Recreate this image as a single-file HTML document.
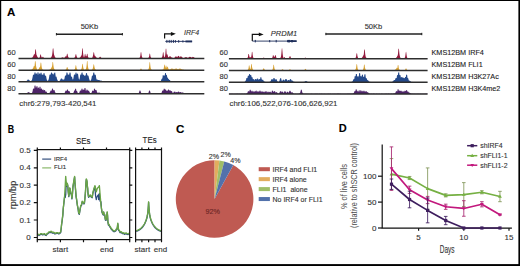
<!DOCTYPE html>
<html><head><meta charset="utf-8"><style>
html,body{margin:0;padding:0;background:#fff;width:520px;height:266px;overflow:hidden}
svg{display:block;font-family:"Liberation Sans",sans-serif}
text{stroke:#333;stroke-width:0.12px;paint-order:stroke}
</style></head><body>
<svg width="520" height="266" viewBox="0 0 520 266">
<rect x="0" y="0" width="520" height="266" fill="#fff"/>
<!-- border -->
<rect x="0" y="0" width="520" height="1" fill="#000"/>
<rect x="0" y="0" width="1.2" height="266" fill="#000"/>
<rect x="518.4" y="0" width="1.6" height="266" fill="#000"/>
<rect x="0" y="264.1" width="520" height="1.9" fill="#000"/>

<!-- ============ PANEL A ============ -->
<text x="7.0" y="16.1" font-size="11.5" font-weight="bold" fill="#000">A</text>

<!-- scale bars -->
<g stroke="#222" stroke-width="1.4">
<line x1="56.2" y1="34.2" x2="122.6" y2="34.2"/>
<line x1="56.4" y1="33" x2="56.4" y2="35.4" stroke-width="1"/>
<line x1="122.4" y1="33" x2="122.4" y2="35.4" stroke-width="1"/>
<line x1="325.7" y1="34" x2="422" y2="34"/>
<line x1="325.9" y1="32.8" x2="325.9" y2="35.2" stroke-width="1"/>
<line x1="421.8" y1="32.8" x2="421.8" y2="35.2" stroke-width="1"/>
</g>
<g font-size="7.5" fill="#333" text-anchor="middle">
<text x="89.4" y="29.2">50Kb</text>
<text x="373.4" y="28.8">50Kb</text>
</g>

<!-- IRF4 gene -->
<path d="M164.6,38.6 V33.8 H171.5" fill="none" stroke="#111" stroke-width="1.2"/>
<path d="M170.9,31.9 L175.8,33.8 L170.9,35.9 Z" fill="#111"/>
<text x="184.1" y="34.9" font-size="7" font-style="italic" fill="#333">IRF4</text>
<g stroke="#1f2f5c" fill="#1f2f5c">
<line x1="165.3" y1="41.4" x2="192.1" y2="41.4" stroke-width="0.9"/>
<rect x="185.5" y="40.5" width="6.6" height="1.9" stroke="none"/>
<g stroke="none"><rect x="166.4" y="39.9" width="1" height="3"/><rect x="168.7" y="39.9" width="1" height="3"/><rect x="170.7" y="39.9" width="1" height="3"/><rect x="172.9" y="39.9" width="1" height="3"/><rect x="174.9" y="40.1" width="1" height="2.6"/><rect x="178.2" y="40.1" width="1" height="2.6"/><rect x="182.4" y="40.3" width="1" height="2.2"/></g>
</g>

<!-- PRDM1 gene -->
<path d="M252.3,41.1 V34.4 H259.5" fill="none" stroke="#111" stroke-width="1.2"/>
<path d="M258.8,32.6 L263.6,34.4 L258.8,36.3 Z" fill="#111"/>
<text x="270.8" y="35.6" font-size="7.5" font-style="italic" fill="#333">PRDM1</text>
<g stroke="#1f2f5c" fill="#1f2f5c">
<line x1="252.3" y1="41.1" x2="296.6" y2="41.1" stroke-width="0.9"/>
<rect x="287" y="40.3" width="9.6" height="1.7" stroke="none"/>
<rect x="287.5" y="39.9" width="2.5" height="2.5" stroke="none"/>
<rect x="291" y="40" width="2" height="2.3" stroke="none"/>
<g stroke="none"><rect x="254.8" y="39.9" width="1" height="2.5"/><rect x="269.2" y="40" width="1" height="2.3"/><rect x="275.7" y="39.9" width="1" height="2.5"/></g>
</g>

<!-- track scale labels -->
<g font-size="7.5" fill="#333" text-anchor="end">
<text x="15.6" y="54.5">60</text>
<text x="15.6" y="66.7">60</text>
<text x="15.6" y="78.9">80</text>
<text x="15.6" y="91.1">80</text>
<text x="227.9" y="54.5">60</text>
<text x="227.9" y="66.7">60</text>
<text x="227.9" y="78.9">80</text>
<text x="227.9" y="91.1">80</text>
</g>
<g font-size="7.25" fill="#222">
<text x="431.5" y="54.6">KMS12BM IRF4</text>
<text x="431.5" y="66.8">KMS12BM FLI1</text>
<text x="431.5" y="79">KMS12BM H3K27Ac</text>
<text x="431.5" y="91.2">KMS12BM H3K4me2</text>
</g>
<g font-size="7.9" fill="#333">
<text x="19.3" y="105.7">chr6:279,793-420,541</text>
<text x="229.5" y="106">chr6:106,522,076-106,626,921</text>
</g>

<!-- TRACKS -->
<g id="tracks"><path d="M18.50,58.50 L18.50,58.39 L18.75,58.45 L19.00,58.27 L19.25,58.47 L19.50,58.31 L19.75,58.37 L20.00,58.48 L20.25,58.32 L20.50,58.49 L20.75,58.35 L21.00,58.48 L21.25,58.47 L21.50,58.35 L21.75,58.21 L22.00,58.46 L22.25,58.42 L22.50,58.28 L22.75,58.17 L23.00,58.30 L23.25,58.36 L23.50,58.16 L23.75,58.48 L24.00,58.20 L24.25,58.40 L24.50,58.45 L24.75,58.46 L25.00,58.39 L25.25,58.21 L25.50,58.44 L25.75,58.30 L26.00,58.28 L26.25,58.37 L26.50,58.31 L26.75,58.47 L27.00,58.48 L27.25,58.42 L27.50,58.26 L27.75,58.34 L28.00,58.38 L28.25,58.28 L28.50,58.32 L28.75,58.37 L29.00,58.19 L29.25,58.22 L29.50,58.36 L29.75,58.23 L30.00,58.23 L30.25,58.09 L30.50,58.11 L30.75,58.22 L31.00,57.93 L31.25,58.17 L31.50,57.98 L31.75,57.76 L32.00,57.84 L32.25,57.55 L32.50,57.48 L32.75,56.97 L33.00,56.57 L33.25,56.17 L33.50,55.46 L33.75,54.88 L34.00,54.26 L34.25,54.29 L34.50,54.30 L34.75,54.46 L35.00,52.69 L35.25,49.80 L35.50,49.23 L35.75,49.17 L36.00,50.78 L36.25,53.18 L36.50,54.93 L36.75,55.15 L37.00,55.69 L37.25,56.56 L37.50,57.02 L37.75,57.28 L38.00,57.77 L38.25,57.81 L38.50,58.05 L38.75,58.18 L39.00,58.20 L39.25,57.77 L39.50,57.69 L39.75,57.16 L40.00,56.30 L40.25,54.79 L40.50,54.47 L40.75,54.34 L41.00,55.22 L41.25,56.32 L41.50,57.08 L41.75,57.51 L42.00,57.85 L42.25,57.52 L42.50,57.10 L42.75,56.69 L43.00,56.66 L43.25,57.07 L43.50,57.53 L43.75,57.82 L44.00,58.02 L44.25,58.07 L44.50,58.12 L44.75,58.29 L45.00,58.42 L45.25,58.30 L45.50,58.34 L45.75,58.28 L46.00,58.15 L46.25,58.25 L46.50,58.31 L46.75,58.28 L47.00,58.26 L47.25,58.47 L47.50,58.17 L47.75,58.21 L48.00,58.17 L48.25,58.19 L48.50,58.32 L48.75,58.30 L49.00,58.39 L49.25,58.17 L49.50,58.34 L49.75,58.28 L50.00,58.16 L50.25,58.08 L50.50,57.89 L50.75,57.80 L51.00,57.57 L51.25,57.18 L51.50,56.73 L51.75,56.01 L52.00,55.49 L52.25,54.12 L52.50,52.10 L52.75,49.06 L53.00,48.21 L53.25,48.18 L53.50,49.74 L53.75,52.77 L54.00,54.45 L54.25,55.15 L54.50,55.82 L54.75,56.49 L55.00,57.12 L55.25,57.48 L55.50,57.66 L55.75,57.88 L56.00,57.82 L56.25,58.16 L56.50,58.29 L56.75,58.02 L57.00,58.20 L57.25,58.37 L57.50,58.25 L57.75,58.45 L58.00,58.28 L58.25,58.13 L58.50,58.18 L58.75,58.23 L59.00,58.37 L59.25,58.33 L59.50,58.39 L59.75,58.16 L60.00,58.22 L60.25,58.11 L60.50,58.23 L60.75,58.23 L61.00,57.96 L61.25,57.83 L61.50,57.79 L61.75,57.69 L62.00,57.53 L62.25,57.36 L62.50,57.42 L62.75,57.32 L63.00,57.38 L63.25,57.52 L63.50,57.73 L63.75,57.81 L64.00,57.95 L64.25,57.73 L64.50,57.49 L64.75,57.47 L65.00,57.05 L65.25,56.72 L65.50,56.32 L65.75,56.37 L66.00,56.42 L66.25,56.42 L66.50,56.12 L66.75,54.92 L67.00,53.78 L67.25,53.68 L67.50,53.71 L67.75,55.37 L68.00,56.32 L68.25,56.93 L68.50,57.62 L68.75,57.71 L69.00,57.81 L69.25,57.98 L69.50,58.08 L69.75,58.23 L70.00,58.37 L70.25,58.18 L70.50,58.35 L70.75,58.19 L71.00,58.14 L71.25,58.35 L71.50,58.35 L71.75,58.16 L72.00,58.24 L72.25,58.43 L72.50,58.43 L72.75,58.41 L73.00,58.13 L73.25,58.14 L73.50,58.33 L73.75,58.03 L74.00,57.88 L74.25,57.85 L74.50,57.74 L74.75,57.34 L75.00,56.98 L75.25,56.26 L75.50,54.77 L75.75,54.27 L76.00,54.32 L76.25,54.49 L76.50,55.92 L76.75,56.60 L77.00,57.16 L77.25,57.73 L77.50,57.95 L77.75,58.10 L78.00,58.22 L78.25,58.16 L78.50,58.24 L78.75,58.14 L79.00,58.18 L79.25,57.82 L79.50,57.92 L79.75,57.75 L80.00,57.54 L80.25,57.21 L80.50,57.11 L80.75,56.58 L81.00,56.27 L81.25,55.68 L81.50,55.32 L81.75,54.66 L82.00,52.03 L82.25,48.44 L82.50,48.50 L82.75,48.22 L83.00,52.13 L83.25,54.51 L83.50,55.92 L83.75,56.90 L84.00,57.53 L84.25,56.91 L84.50,55.98 L84.75,54.39 L85.00,53.96 L85.25,53.80 L85.50,54.94 L85.75,56.30 L86.00,56.23 L86.25,56.32 L86.50,56.30 L86.75,55.09 L87.00,53.68 L87.25,53.84 L87.50,54.05 L87.75,55.75 L88.00,56.76 L88.25,57.31 L88.50,57.77 L88.75,57.85 L89.00,57.94 L89.25,57.84 L89.50,57.97 L89.75,57.95 L90.00,57.97 L90.25,58.24 L90.50,58.16 L90.75,58.05 L91.00,58.10 L91.25,58.31 L91.50,58.24 L91.75,58.02 L92.00,57.98 L92.25,57.67 L92.50,57.34 L92.75,56.55 L93.00,55.62 L93.25,54.23 L93.50,52.45 L93.75,52.25 L94.00,52.27 L94.25,53.78 L94.50,55.11 L94.75,55.66 L95.00,55.92 L95.25,55.74 L95.50,56.47 L95.75,56.86 L96.00,57.01 L96.25,57.32 L96.50,57.75 L96.75,57.81 L97.00,57.90 L97.25,58.05 L97.50,58.18 L97.75,58.19 L98.00,58.08 L98.25,58.26 L98.50,57.99 L98.75,57.91 L99.00,57.90 L99.25,57.57 L99.50,57.17 L99.75,56.82 L100.00,56.98 L100.25,56.66 L100.50,56.80 L100.75,57.12 L101.00,57.70 L101.25,57.85 L101.50,58.08 L101.75,57.93 L102.00,58.19 L102.25,58.29 L102.50,58.24 L102.75,58.10 L103.00,58.15 L103.25,58.36 L103.50,58.41 L103.75,58.15 L104.00,58.28 L104.25,58.24 L104.50,58.46 L104.75,58.47 L105.00,58.25 L105.25,58.35 L105.50,58.47 L105.75,58.17 L106.00,58.28 L106.25,58.22 L106.50,58.47 L106.75,58.20 L107.00,58.48 L107.25,58.20 L107.50,58.34 L107.75,58.38 L108.00,58.31 L108.25,58.18 L108.50,58.41 L108.75,58.45 L109.00,58.32 L109.25,58.42 L109.50,58.46 L109.75,58.44 L110.00,58.48 L110.25,58.43 L110.50,58.39 L110.75,58.39 L111.00,58.23 L111.25,58.40 L111.50,58.32 L111.75,58.44 L112.00,58.38 L112.25,58.49 L112.50,58.41 L112.75,58.49 L113.00,58.24 L113.25,58.31 L113.50,58.43 L113.75,58.33 L114.00,58.17 L114.25,58.46 L114.50,58.21 L114.75,58.35 L115.00,58.33 L115.25,58.21 L115.50,58.36 L115.75,58.32 L116.00,58.26 L116.25,58.16 L116.50,58.38 L116.75,58.21 L117.00,58.25 L117.25,58.28 L117.50,58.36 L117.75,58.38 L118.00,58.48 L118.25,58.45 L118.50,58.48 L118.75,58.24 L119.00,58.41 L119.25,58.44 L119.50,58.47 L119.75,58.21 L120.00,58.20 L120.25,58.27 L120.50,58.40 L120.75,58.42 L121.00,58.40 L121.25,58.34 L121.50,58.44 L121.75,58.34 L122.00,58.41 L122.25,58.16 L122.50,58.16 L122.75,58.31 L123.00,58.41 L123.25,58.16 L123.50,58.39 L123.75,58.38 L124.00,58.50 L124.25,58.37 L124.50,58.33 L124.75,58.32 L125.00,58.43 L125.25,58.32 L125.50,58.50 L125.75,58.41 L126.00,58.47 L126.25,58.36 L126.50,58.49 L126.75,58.49 L127.00,58.39 L127.25,58.42 L127.50,58.30 L127.75,58.31 L128.00,58.24 L128.25,58.27 L128.50,58.25 L128.75,58.19 L129.00,58.36 L129.25,58.39 L129.50,58.16 L129.75,58.45 L130.00,58.25 L130.25,58.27 L130.50,58.48 L130.75,58.21 L131.00,58.19 L131.25,58.28 L131.50,58.24 L131.75,58.22 L132.00,58.45 L132.25,58.32 L132.50,58.32 L132.75,58.21 L133.00,58.22 L133.25,58.21 L133.50,58.30 L133.75,58.19 L134.00,58.26 L134.25,58.26 L134.50,58.42 L134.75,58.49 L135.00,58.45 L135.25,58.37 L135.50,58.46 L135.75,58.21 L136.00,58.30 L136.25,58.28 L136.50,58.28 L136.75,58.26 L137.00,58.33 L137.25,58.50 L137.50,58.22 L137.75,58.24 L138.00,58.32 L138.25,58.27 L138.50,58.20 L138.75,58.36 L139.00,58.05 L139.25,58.10 L139.50,57.96 L139.75,57.56 L140.00,56.85 L140.25,56.13 L140.50,54.45 L140.75,52.16 L141.00,52.33 L141.25,52.37 L141.50,54.54 L141.75,55.96 L142.00,56.84 L142.25,57.44 L142.50,57.76 L142.75,58.16 L143.00,58.26 L143.25,58.30 L143.50,58.17 L143.75,58.35 L144.00,58.30 L144.25,58.50 L144.50,58.48 L144.75,58.41 L145.00,58.26 L145.25,58.26 L145.50,58.26 L145.75,58.40 L146.00,58.32 L146.25,58.34 L146.50,58.34 L146.75,58.46 L147.00,58.19 L147.25,58.38 L147.50,58.08 L147.75,58.04 L148.00,58.28 L148.25,57.98 L148.50,57.63 L148.75,57.19 L149.00,56.75 L149.25,55.78 L149.50,54.09 L149.75,53.57 L150.00,53.83 L150.25,55.09 L150.50,56.50 L150.75,57.14 L151.00,57.45 L151.25,58.02 L151.50,57.95 L151.75,58.16 L152.00,58.09 L152.25,58.20 L152.50,58.38 L152.75,58.19 L153.00,58.33 L153.25,58.49 L153.50,58.50 L153.75,58.33 L154.00,58.34 L154.25,58.39 L154.50,58.45 L154.75,58.38 L155.00,58.39 L155.25,58.21 L155.50,58.50 L155.75,58.24 L156.00,58.21 L156.25,58.46 L156.50,58.18 L156.75,58.25 L157.00,58.18 L157.25,58.40 L157.50,58.37 L157.75,58.36 L158.00,58.15 L158.25,58.29 L158.50,58.37 L158.75,58.35 L159.00,58.40 L159.25,58.48 L159.50,58.46 L159.75,58.20 L160.00,58.38 L160.25,58.14 L160.50,58.37 L160.75,58.33 L161.00,58.19 L161.25,58.23 L161.50,58.03 L161.75,57.60 L162.00,57.26 L162.25,56.68 L162.50,55.74 L162.75,53.99 L163.00,52.17 L163.25,52.31 L163.50,52.60 L163.75,55.06 L164.00,56.16 L164.25,57.08 L164.50,57.41 L164.75,56.91 L165.00,56.15 L165.25,54.77 L165.50,52.05 L165.75,48.76 L166.00,48.63 L166.25,48.68 L166.50,52.27 L166.75,54.53 L167.00,54.39 L167.25,54.41 L167.50,54.27 L167.75,55.60 L168.00,56.61 L168.25,57.34 L168.50,57.37 L168.75,57.17 L169.00,56.93 L169.25,56.41 L169.50,56.33 L169.75,56.42 L170.00,56.18 L170.25,56.15 L170.50,56.34 L170.75,56.68 L171.00,56.93 L171.25,57.20 L171.50,57.30 L171.75,57.56 L172.00,57.65 L172.25,57.76 L172.50,57.75 L172.75,57.72 L173.00,57.84 L173.25,58.02 L173.50,58.07 L173.75,58.00 L174.00,57.96 L174.25,57.85 L174.50,57.80 L174.75,57.53 L175.00,57.04 L175.25,57.02 L175.50,56.48 L175.75,56.28 L176.00,56.20 L176.25,56.42 L176.50,56.56 L176.75,56.98 L177.00,57.24 L177.25,57.25 L177.50,56.77 L177.75,56.41 L178.00,55.89 L178.25,55.99 L178.50,55.99 L178.75,55.75 L179.00,55.88 L179.25,56.54 L179.50,56.89 L179.75,57.41 L180.00,57.24 L180.25,56.74 L180.50,56.36 L180.75,56.20 L181.00,56.16 L181.25,56.41 L181.50,56.62 L181.75,57.01 L182.00,57.20 L182.25,57.39 L182.50,57.49 L182.75,57.72 L183.00,57.86 L183.25,57.91 L183.50,58.01 L183.75,57.92 L184.00,58.02 L184.25,57.68 L184.50,57.77 L184.75,57.42 L185.00,57.37 L185.25,57.33 L185.50,57.26 L185.75,57.21 L186.00,57.08 L186.25,57.06 L186.50,57.26 L186.75,57.41 L187.00,57.42 L187.25,57.53 L187.50,57.72 L187.75,57.88 L188.00,57.71 L188.25,57.81 L188.50,57.59 L188.75,57.39 L189.00,57.04 L189.25,56.94 L189.50,56.69 L189.75,56.83 L190.00,56.92 L190.25,56.91 L190.50,56.66 L190.75,56.92 L191.00,57.27 L191.25,57.54 L191.50,57.52 L191.75,57.58 L192.00,57.51 L192.25,57.33 L192.50,56.88 L192.75,56.68 L193.00,56.92 L193.25,56.99 L193.50,57.00 L193.75,57.27 L194.00,57.42 L194.25,57.78 L194.50,57.71 L194.75,57.84 L195.00,58.01 L195.25,58.19 L195.50,57.97 L195.75,58.24 L196.00,58.10 L196.25,58.33 L196.50,58.35 L196.75,58.18 L197.00,58.35 L197.25,58.13 L197.50,58.30 L197.75,58.41 L198.00,58.41 L198.25,58.34 L198.50,58.26 L198.75,58.16 L199.00,58.44 L199.25,58.36 L199.50,58.42 L199.75,58.16 L200.00,58.45 L200.25,58.48 L200.50,58.48 L200.75,58.36 L201.00,58.18 L201.25,58.19 L201.50,58.24 L201.75,58.15 L202.00,58.17 L202.25,58.38 L202.50,58.44 L202.75,58.17 L203.00,58.24 L203.25,58.49 L203.50,58.27 L203.75,58.37 L204.00,58.37 L204.25,58.38 L204.30,58.50 Z" fill="#931a3d"/>
<path d="M18.50,70.30 L18.50,70.24 L18.75,70.30 L19.00,70.20 L19.25,70.18 L19.50,69.97 L19.75,70.26 L20.00,69.96 L20.25,70.23 L20.50,70.18 L20.75,70.01 L21.00,70.01 L21.25,70.15 L21.50,70.28 L21.75,70.13 L22.00,70.17 L22.25,69.98 L22.50,70.23 L22.75,70.17 L23.00,69.99 L23.25,70.29 L23.50,70.16 L23.75,70.02 L24.00,70.03 L24.25,70.29 L24.50,70.29 L24.75,70.28 L25.00,69.98 L25.25,70.21 L25.50,70.04 L25.75,69.99 L26.00,70.18 L26.25,70.20 L26.50,69.96 L26.75,70.08 L27.00,70.20 L27.25,70.04 L27.50,70.18 L27.75,70.19 L28.00,70.29 L28.25,70.02 L28.50,69.96 L28.75,70.05 L29.00,69.94 L29.25,70.25 L29.50,70.16 L29.75,70.06 L30.00,69.87 L30.25,69.85 L30.50,70.01 L30.75,70.02 L31.00,69.90 L31.25,69.81 L31.50,69.57 L31.75,69.71 L32.00,69.34 L32.25,69.18 L32.50,68.90 L32.75,68.60 L33.00,68.25 L33.25,67.83 L33.50,67.17 L33.75,66.29 L34.00,66.03 L34.25,66.27 L34.50,66.23 L34.75,64.04 L35.00,61.11 L35.25,61.18 L35.50,61.19 L35.75,63.02 L36.00,65.51 L36.25,66.88 L36.50,67.96 L36.75,68.62 L37.00,69.32 L37.25,69.69 L37.50,69.88 L37.75,69.64 L38.00,69.43 L38.25,69.35 L38.50,69.20 L38.75,68.85 L39.00,68.40 L39.25,67.91 L39.50,67.27 L39.75,67.00 L40.00,67.07 L40.25,66.02 L40.50,63.57 L40.75,62.60 L41.00,62.50 L41.25,63.18 L41.50,65.43 L41.75,67.19 L42.00,68.21 L42.25,68.89 L42.50,69.38 L42.75,69.42 L43.00,69.72 L43.25,69.94 L43.50,70.00 L43.75,69.84 L44.00,70.04 L44.25,70.15 L44.50,69.97 L44.75,70.03 L45.00,69.92 L45.25,70.24 L45.50,70.12 L45.75,70.00 L46.00,69.99 L46.25,69.97 L46.50,70.27 L46.75,70.17 L47.00,70.23 L47.25,70.19 L47.50,69.91 L47.75,70.03 L48.00,69.89 L48.25,70.06 L48.50,69.86 L48.75,69.97 L49.00,69.98 L49.25,69.74 L49.50,69.59 L49.75,69.78 L50.00,69.47 L50.25,69.29 L50.50,69.21 L50.75,68.86 L51.00,68.57 L51.25,68.07 L51.50,67.44 L51.75,67.09 L52.00,66.55 L52.25,64.89 L52.50,62.20 L52.75,62.09 L53.00,61.96 L53.25,63.93 L53.50,66.03 L53.75,67.49 L54.00,68.21 L54.25,68.92 L54.50,69.49 L54.75,69.75 L55.00,69.82 L55.25,69.88 L55.50,69.93 L55.75,70.16 L56.00,70.16 L56.25,69.99 L56.50,70.11 L56.75,70.16 L57.00,70.16 L57.25,69.94 L57.50,70.17 L57.75,70.09 L58.00,70.16 L58.25,70.15 L58.50,69.99 L58.75,69.95 L59.00,70.17 L59.25,70.23 L59.50,70.04 L59.75,70.23 L60.00,70.30 L60.25,69.98 L60.50,70.15 L60.75,70.01 L61.00,70.16 L61.25,69.99 L61.50,70.14 L61.75,70.24 L62.00,70.29 L62.25,70.11 L62.50,70.07 L62.75,69.98 L63.00,70.26 L63.25,70.08 L63.50,70.16 L63.75,70.11 L64.00,70.23 L64.25,70.16 L64.50,70.06 L64.75,69.89 L65.00,70.14 L65.25,69.94 L65.50,69.73 L65.75,69.52 L66.00,69.56 L66.25,69.24 L66.50,68.43 L66.75,67.62 L67.00,67.13 L67.25,67.28 L67.50,66.98 L67.75,68.19 L68.00,68.68 L68.25,69.22 L68.50,69.44 L68.75,69.87 L69.00,69.78 L69.25,70.06 L69.50,70.05 L69.75,69.93 L70.00,69.96 L70.25,70.21 L70.50,70.20 L70.75,70.15 L71.00,70.11 L71.25,70.16 L71.50,70.25 L71.75,70.21 L72.00,70.04 L72.25,69.98 L72.50,70.28 L72.75,70.09 L73.00,70.01 L73.25,70.24 L73.50,69.94 L73.75,70.14 L74.00,69.90 L74.25,69.79 L74.50,69.56 L74.75,69.33 L75.00,68.73 L75.25,67.76 L75.50,66.30 L75.75,65.07 L76.00,65.14 L76.25,65.89 L76.50,67.71 L76.75,68.52 L77.00,69.18 L77.25,69.64 L77.50,69.68 L77.75,69.81 L78.00,70.01 L78.25,70.16 L78.50,70.09 L78.75,70.23 L79.00,70.24 L79.25,70.13 L79.50,70.24 L79.75,70.10 L80.00,70.05 L80.25,70.17 L80.50,69.88 L80.75,69.95 L81.00,69.51 L81.25,69.15 L81.50,68.68 L81.75,67.91 L82.00,66.21 L82.25,63.97 L82.50,63.77 L82.75,64.05 L83.00,66.09 L83.25,67.58 L83.50,68.60 L83.75,69.14 L84.00,69.70 L84.25,69.64 L84.50,69.93 L84.75,69.85 L85.00,69.79 L85.25,69.93 L85.50,69.50 L85.75,69.12 L86.00,68.86 L86.25,67.84 L86.50,66.18 L86.75,63.90 L87.00,60.89 L87.25,61.10 L87.50,61.44 L87.75,65.05 L88.00,66.97 L88.25,68.07 L88.50,69.07 L88.75,69.50 L89.00,69.70 L89.25,69.93 L89.50,70.13 L89.75,70.14 L90.00,70.19 L90.25,69.94 L90.50,70.02 L90.75,69.93 L91.00,70.15 L91.25,69.89 L91.50,70.06 L91.75,69.81 L92.00,69.61 L92.25,69.46 L92.50,68.92 L92.75,68.47 L93.00,67.62 L93.25,66.23 L93.50,64.56 L93.75,64.25 L94.00,64.38 L94.25,65.72 L94.50,67.09 L94.75,68.28 L95.00,68.68 L95.25,69.26 L95.50,69.62 L95.75,69.67 L96.00,69.90 L96.25,70.08 L96.50,69.94 L96.75,70.21 L97.00,69.97 L97.25,70.18 L97.50,70.06 L97.75,69.94 L98.00,70.09 L98.25,70.06 L98.50,70.19 L98.75,70.30 L99.00,70.29 L99.25,70.25 L99.50,70.08 L99.75,70.15 L100.00,70.12 L100.25,69.99 L100.50,70.25 L100.75,70.22 L101.00,70.07 L101.25,70.29 L101.50,70.30 L101.75,70.18 L102.00,70.26 L102.25,70.17 L102.50,70.22 L102.75,70.10 L103.00,70.09 L103.25,70.23 L103.50,70.08 L103.75,70.13 L104.00,70.25 L104.25,69.97 L104.50,70.21 L104.75,70.25 L105.00,70.27 L105.25,70.08 L105.50,70.00 L105.75,70.03 L106.00,70.16 L106.25,70.21 L106.50,70.30 L106.75,70.07 L107.00,70.10 L107.25,70.18 L107.50,70.07 L107.75,70.14 L108.00,69.97 L108.25,70.04 L108.50,70.21 L108.75,69.98 L109.00,70.28 L109.25,70.11 L109.50,70.16 L109.75,70.22 L110.00,70.28 L110.25,70.03 L110.50,70.30 L110.75,70.11 L111.00,69.97 L111.25,70.25 L111.50,70.23 L111.75,70.09 L112.00,70.12 L112.25,70.08 L112.50,70.02 L112.75,70.24 L113.00,70.19 L113.25,70.19 L113.50,70.28 L113.75,69.99 L114.00,70.03 L114.25,70.05 L114.50,70.30 L114.75,70.00 L115.00,70.04 L115.25,70.14 L115.50,70.04 L115.75,70.14 L116.00,70.22 L116.25,70.26 L116.50,70.22 L116.75,70.29 L117.00,70.18 L117.25,70.04 L117.50,70.06 L117.75,70.00 L118.00,70.05 L118.25,70.21 L118.50,70.11 L118.75,70.15 L119.00,70.02 L119.25,70.12 L119.50,70.21 L119.75,70.08 L120.00,69.96 L120.25,70.22 L120.50,69.99 L120.75,70.29 L121.00,70.21 L121.25,70.22 L121.50,70.04 L121.75,69.97 L122.00,70.04 L122.25,70.19 L122.50,69.99 L122.75,70.19 L123.00,70.22 L123.25,69.98 L123.50,70.08 L123.75,70.06 L124.00,70.07 L124.25,69.96 L124.50,70.14 L124.75,70.01 L125.00,70.06 L125.25,70.00 L125.50,70.15 L125.75,70.05 L126.00,70.10 L126.25,70.19 L126.50,70.23 L126.75,70.08 L127.00,70.27 L127.25,69.98 L127.50,70.25 L127.75,70.29 L128.00,70.26 L128.25,69.97 L128.50,70.18 L128.75,70.25 L129.00,70.29 L129.25,70.29 L129.50,70.06 L129.75,70.08 L130.00,70.06 L130.25,70.04 L130.50,70.28 L130.75,70.09 L131.00,70.17 L131.25,70.01 L131.50,70.01 L131.75,69.99 L132.00,70.28 L132.25,70.00 L132.50,69.98 L132.75,69.97 L133.00,70.26 L133.25,70.23 L133.50,70.26 L133.75,70.29 L134.00,70.00 L134.25,70.02 L134.50,70.08 L134.75,70.01 L135.00,70.08 L135.25,70.20 L135.50,70.27 L135.75,70.27 L136.00,70.03 L136.25,70.23 L136.50,70.19 L136.75,70.15 L137.00,70.29 L137.25,70.21 L137.50,70.20 L137.75,70.05 L138.00,70.17 L138.25,70.18 L138.50,69.95 L138.75,70.10 L139.00,69.95 L139.25,70.01 L139.50,70.16 L139.75,69.94 L140.00,69.80 L140.25,69.46 L140.50,69.23 L140.75,68.55 L141.00,68.61 L141.25,68.72 L141.50,69.05 L141.75,69.69 L142.00,69.66 L142.25,70.03 L142.50,70.17 L142.75,70.15 L143.00,69.99 L143.25,69.93 L143.50,70.28 L143.75,70.12 L144.00,70.13 L144.25,70.02 L144.50,70.24 L144.75,70.13 L145.00,70.18 L145.25,70.01 L145.50,70.21 L145.75,69.97 L146.00,70.20 L146.25,70.22 L146.50,70.06 L146.75,70.13 L147.00,70.26 L147.25,69.99 L147.50,70.13 L147.75,69.80 L148.00,69.68 L148.25,69.41 L148.50,69.06 L148.75,68.49 L149.00,67.39 L149.25,65.59 L149.50,62.45 L149.75,62.27 L150.00,61.99 L150.25,64.71 L150.50,66.84 L150.75,68.15 L151.00,68.74 L151.25,69.37 L151.50,69.71 L151.75,69.71 L152.00,70.05 L152.25,70.04 L152.50,70.05 L152.75,70.03 L153.00,70.03 L153.25,70.07 L153.50,70.17 L153.75,70.18 L154.00,70.24 L154.25,70.00 L154.50,70.06 L154.75,70.03 L155.00,70.23 L155.25,70.13 L155.50,70.01 L155.75,70.08 L156.00,70.24 L156.25,70.12 L156.50,69.97 L156.75,70.19 L157.00,70.20 L157.25,70.16 L157.50,70.01 L157.75,69.96 L158.00,70.19 L158.25,70.19 L158.50,70.15 L158.75,70.11 L159.00,70.03 L159.25,70.15 L159.50,70.07 L159.75,70.11 L160.00,69.82 L160.25,69.88 L160.50,70.08 L160.75,69.76 L161.00,70.03 L161.25,69.90 L161.50,69.65 L161.75,69.68 L162.00,69.66 L162.25,69.71 L162.50,69.73 L162.75,69.51 L163.00,69.62 L163.25,69.47 L163.50,68.91 L163.75,68.22 L164.00,66.75 L164.25,64.62 L164.50,64.66 L164.75,64.72 L165.00,66.67 L165.25,68.01 L165.50,67.03 L165.75,65.59 L166.00,65.66 L166.25,65.54 L166.50,66.76 L166.75,68.02 L167.00,67.59 L167.25,66.54 L167.50,66.65 L167.75,66.72 L168.00,67.54 L168.25,68.34 L168.50,68.94 L168.75,69.33 L169.00,69.36 L169.25,69.50 L169.50,69.46 L169.75,69.44 L170.00,69.40 L170.25,69.18 L170.50,69.25 L170.75,69.00 L171.00,68.72 L171.25,68.57 L171.50,68.58 L171.75,68.71 L172.00,68.65 L172.25,68.64 L172.50,68.58 L172.75,68.68 L173.00,68.76 L173.25,68.82 L173.50,69.22 L173.75,69.17 L174.00,69.24 L174.25,69.27 L174.50,69.11 L174.75,68.81 L175.00,68.98 L175.25,68.63 L175.50,68.74 L175.75,68.53 L176.00,68.47 L176.25,68.62 L176.50,68.76 L176.75,68.62 L177.00,68.81 L177.25,68.90 L177.50,69.11 L177.75,69.18 L178.00,69.22 L178.25,69.22 L178.50,69.14 L178.75,68.82 L179.00,68.92 L179.25,68.58 L179.50,68.66 L179.75,68.53 L180.00,68.76 L180.25,68.46 L180.50,68.68 L180.75,68.80 L181.00,68.90 L181.25,69.01 L181.50,69.28 L181.75,69.26 L182.00,69.36 L182.25,69.36 L182.50,69.56 L182.75,69.66 L183.00,69.74 L183.25,69.62 L183.50,69.60 L183.75,69.79 L184.00,69.93 L184.25,69.76 L184.50,69.94 L184.75,70.03 L185.00,70.08 L185.25,69.87 L185.50,69.88 L185.75,69.96 L186.00,70.03 L186.25,70.01 L186.50,70.14 L186.75,69.89 L187.00,70.11 L187.25,70.02 L187.50,69.96 L187.75,69.97 L188.00,70.10 L188.25,70.16 L188.50,70.08 L188.75,70.23 L189.00,69.98 L189.25,70.15 L189.50,69.98 L189.75,70.19 L190.00,70.15 L190.25,70.20 L190.50,70.14 L190.75,70.22 L191.00,70.29 L191.25,70.04 L191.50,70.19 L191.75,70.21 L192.00,70.19 L192.25,70.13 L192.50,70.15 L192.75,70.07 L193.00,70.07 L193.25,70.17 L193.50,69.97 L193.75,70.00 L194.00,70.28 L194.25,70.01 L194.50,69.98 L194.75,70.02 L195.00,70.25 L195.25,70.01 L195.50,70.08 L195.75,70.29 L196.00,70.30 L196.25,69.97 L196.50,70.07 L196.75,70.21 L197.00,70.26 L197.25,70.25 L197.50,70.22 L197.75,70.03 L198.00,70.18 L198.25,70.25 L198.50,69.98 L198.75,70.02 L199.00,70.24 L199.25,69.99 L199.50,70.09 L199.75,70.03 L200.00,70.07 L200.25,69.99 L200.50,70.02 L200.75,70.01 L201.00,70.23 L201.25,70.06 L201.50,70.11 L201.75,70.04 L202.00,70.15 L202.25,69.99 L202.50,70.11 L202.75,70.21 L203.00,70.22 L203.25,70.25 L203.50,70.13 L203.75,70.28 L204.00,70.14 L204.25,70.25 L204.30,70.30 Z" fill="#d8a233"/>
<path d="M18.50,81.80 L18.50,81.63 L18.75,81.63 L19.00,81.61 L19.25,81.50 L19.50,81.80 L19.75,81.51 L20.00,81.64 L20.25,81.60 L20.50,81.57 L20.75,81.50 L21.00,81.67 L21.25,81.65 L21.50,81.46 L21.75,81.77 L22.00,81.57 L22.25,81.57 L22.50,81.78 L22.75,81.57 L23.00,81.54 L23.25,81.45 L23.50,81.66 L23.75,81.42 L24.00,81.58 L24.25,81.57 L24.50,81.41 L24.75,81.69 L25.00,81.42 L25.25,81.41 L25.50,81.46 L25.75,81.21 L26.00,81.30 L26.25,81.15 L26.50,80.99 L26.75,80.72 L27.00,80.68 L27.25,80.28 L27.50,79.88 L27.75,79.61 L28.00,79.51 L28.25,79.70 L28.50,79.51 L28.75,79.66 L29.00,79.66 L29.25,80.19 L29.50,80.46 L29.75,80.56 L30.00,80.88 L30.25,80.99 L30.50,81.27 L30.75,81.35 L31.00,81.21 L31.25,80.91 L31.50,80.61 L31.75,80.16 L32.00,79.85 L32.25,78.81 L32.50,77.62 L32.75,76.13 L33.00,74.78 L33.25,74.69 L33.50,74.80 L33.75,74.73 L34.00,74.48 L34.25,74.54 L34.50,72.57 L34.75,72.52 L35.00,72.48 L35.25,72.59 L35.50,72.58 L35.75,74.53 L36.00,73.56 L36.25,73.59 L36.50,73.56 L36.75,73.73 L37.00,73.57 L37.25,75.30 L37.50,72.23 L37.75,72.46 L38.00,72.44 L38.25,72.49 L38.50,72.23 L38.75,75.14 L39.00,73.57 L39.25,73.67 L39.50,73.51 L39.75,73.52 L40.00,73.60 L40.25,74.66 L40.50,72.69 L40.75,72.65 L41.00,72.69 L41.25,72.65 L41.50,72.58 L41.75,74.42 L42.00,74.78 L42.25,74.60 L42.50,74.79 L42.75,74.76 L43.00,74.52 L43.25,74.94 L43.50,72.98 L43.75,73.14 L44.00,73.30 L44.25,73.16 L44.50,73.09 L44.75,74.82 L45.00,75.46 L45.25,75.63 L45.50,75.66 L45.75,75.76 L46.00,75.57 L46.25,77.03 L46.50,78.43 L46.75,79.45 L47.00,80.14 L47.25,80.39 L47.50,80.93 L47.75,80.78 L48.00,80.80 L48.25,80.13 L48.50,79.82 L48.75,79.06 L49.00,77.67 L49.25,76.23 L49.50,74.54 L49.75,74.73 L50.00,74.78 L50.25,74.53 L50.50,74.55 L50.75,74.45 L51.00,72.54 L51.25,72.77 L51.50,72.58 L51.75,72.55 L52.00,72.64 L52.25,74.43 L52.50,73.71 L52.75,73.46 L53.00,73.55 L53.25,73.80 L53.50,73.79 L53.75,75.31 L54.00,73.96 L54.25,72.77 L54.50,72.69 L54.75,72.54 L55.00,72.74 L55.25,72.50 L55.50,75.05 L55.75,76.78 L56.00,76.67 L56.25,76.60 L56.50,76.65 L56.75,77.65 L57.00,78.98 L57.25,79.57 L57.50,80.29 L57.75,80.60 L58.00,80.89 L58.25,81.17 L58.50,81.32 L58.75,81.18 L59.00,81.02 L59.25,80.94 L59.50,80.84 L59.75,80.71 L60.00,80.50 L60.25,79.80 L60.50,79.40 L60.75,78.72 L61.00,78.68 L61.25,78.59 L61.50,78.46 L61.75,78.51 L62.00,78.59 L62.25,78.90 L62.50,79.50 L62.75,79.49 L63.00,79.67 L63.25,79.56 L63.50,79.59 L63.75,79.62 L64.00,79.86 L64.25,79.35 L64.50,78.48 L64.75,77.01 L65.00,75.65 L65.25,75.59 L65.50,75.51 L65.75,75.49 L66.00,75.79 L66.25,74.46 L66.50,72.52 L66.75,72.50 L67.00,72.60 L67.25,72.70 L67.50,72.50 L67.75,74.47 L68.00,74.56 L68.25,74.48 L68.50,74.68 L68.75,74.77 L69.00,74.61 L69.25,74.47 L69.50,72.73 L69.75,72.54 L70.00,72.47 L70.25,72.72 L70.50,72.59 L70.75,74.51 L71.00,76.64 L71.25,76.73 L71.50,76.71 L71.75,76.54 L72.00,76.52 L72.25,77.72 L72.50,79.00 L72.75,79.56 L73.00,79.60 L73.25,78.98 L73.50,77.72 L73.75,76.00 L74.00,74.49 L74.25,74.62 L74.50,74.63 L74.75,74.59 L75.00,74.73 L75.25,74.68 L75.50,72.74 L75.75,72.55 L76.00,72.67 L76.25,72.60 L76.50,72.66 L76.75,74.57 L77.00,73.75 L77.25,73.78 L77.50,73.45 L77.75,73.67 L78.00,73.76 L78.25,75.31 L78.50,77.10 L78.75,78.62 L79.00,79.38 L79.25,79.87 L79.50,79.06 L79.75,78.18 L80.00,76.67 L80.25,74.45 L80.50,74.50 L80.75,74.63 L81.00,74.60 L81.25,74.66 L81.50,72.53 L81.75,72.65 L82.00,72.47 L82.25,72.53 L82.50,72.51 L82.75,74.41 L83.00,74.71 L83.25,74.79 L83.50,74.73 L83.75,74.74 L84.00,74.77 L84.25,76.30 L84.50,75.60 L84.75,75.50 L85.00,75.64 L85.25,75.47 L85.50,75.48 L85.75,75.12 L86.00,73.09 L86.25,73.16 L86.50,73.26 L86.75,72.96 L87.00,73.21 L87.25,74.95 L87.50,75.58 L87.75,75.47 L88.00,75.57 L88.25,75.66 L88.50,75.64 L88.75,77.05 L89.00,78.14 L89.25,79.11 L89.50,80.06 L89.75,80.61 L90.00,80.88 L90.25,81.09 L90.50,80.66 L90.75,80.31 L91.00,79.85 L91.25,79.44 L91.50,78.20 L91.75,76.85 L92.00,75.57 L92.25,75.46 L92.50,75.78 L92.75,75.75 L93.00,74.96 L93.25,72.47 L93.50,72.56 L93.75,72.70 L94.00,72.59 L94.25,72.53 L94.50,74.21 L94.75,74.69 L95.00,74.71 L95.25,74.76 L95.50,74.63 L95.75,74.74 L96.00,76.60 L96.25,78.14 L96.50,79.01 L96.75,79.80 L97.00,79.55 L97.25,79.73 L97.50,79.79 L97.75,79.48 L98.00,80.04 L98.25,79.97 L98.50,80.00 L98.75,79.99 L99.00,80.25 L99.25,80.14 L99.50,80.27 L99.75,79.97 L100.00,80.25 L100.25,80.56 L100.50,80.64 L100.75,80.68 L101.00,80.51 L101.25,80.63 L101.50,80.58 L101.75,80.75 L102.00,80.88 L102.25,81.10 L102.50,81.00 L102.75,81.16 L103.00,81.38 L103.25,81.20 L103.50,81.47 L103.75,81.46 L104.00,81.59 L104.25,81.58 L104.50,81.40 L104.75,81.60 L105.00,81.67 L105.25,81.57 L105.50,81.64 L105.75,81.45 L106.00,81.73 L106.25,81.43 L106.50,81.76 L106.75,81.47 L107.00,81.55 L107.25,81.72 L107.50,81.62 L107.75,81.69 L108.00,81.70 L108.25,81.72 L108.50,81.67 L108.75,81.45 L109.00,81.45 L109.25,81.47 L109.50,81.76 L109.75,81.70 L110.00,81.49 L110.25,81.78 L110.50,81.55 L110.75,81.70 L111.00,81.46 L111.25,81.79 L111.50,81.52 L111.75,81.68 L112.00,81.75 L112.25,81.80 L112.50,81.51 L112.75,81.62 L113.00,81.73 L113.25,81.65 L113.50,81.48 L113.75,81.72 L114.00,81.60 L114.25,81.75 L114.50,81.74 L114.75,81.53 L115.00,81.55 L115.25,81.73 L115.50,81.77 L115.75,81.77 L116.00,81.59 L116.25,81.63 L116.50,81.70 L116.75,81.73 L117.00,81.59 L117.25,81.55 L117.50,81.52 L117.75,81.60 L118.00,81.73 L118.25,81.78 L118.50,81.54 L118.75,81.66 L119.00,81.55 L119.25,81.78 L119.50,81.52 L119.75,81.68 L120.00,81.51 L120.25,81.50 L120.50,81.63 L120.75,81.79 L121.00,81.48 L121.25,81.63 L121.50,81.49 L121.75,81.71 L122.00,81.73 L122.25,81.51 L122.50,81.67 L122.75,81.74 L123.00,81.67 L123.25,81.59 L123.50,81.80 L123.75,81.62 L124.00,81.64 L124.25,81.62 L124.50,81.76 L124.75,81.55 L125.00,81.51 L125.25,81.50 L125.50,81.69 L125.75,81.55 L126.00,81.67 L126.25,81.54 L126.50,81.78 L126.75,81.49 L127.00,81.47 L127.25,81.63 L127.50,81.62 L127.75,81.61 L128.00,81.61 L128.25,81.79 L128.50,81.46 L128.75,81.72 L129.00,81.74 L129.25,81.76 L129.50,81.71 L129.75,81.51 L130.00,81.79 L130.25,81.77 L130.50,81.56 L130.75,81.73 L131.00,81.79 L131.25,81.59 L131.50,81.60 L131.75,81.62 L132.00,81.55 L132.25,81.76 L132.50,81.50 L132.75,81.55 L133.00,81.78 L133.25,81.76 L133.50,81.63 L133.75,81.62 L134.00,81.70 L134.25,81.76 L134.50,81.66 L134.75,81.75 L135.00,81.59 L135.25,81.50 L135.50,81.75 L135.75,81.60 L136.00,81.54 L136.25,81.74 L136.50,81.51 L136.75,81.47 L137.00,81.66 L137.25,81.65 L137.50,81.51 L137.75,81.62 L138.00,81.66 L138.25,81.47 L138.50,81.53 L138.75,81.68 L139.00,81.72 L139.25,81.68 L139.50,81.65 L139.75,81.46 L140.00,81.52 L140.25,81.48 L140.50,81.51 L140.75,81.50 L141.00,81.78 L141.25,81.62 L141.50,81.46 L141.75,81.47 L142.00,81.71 L142.25,81.65 L142.50,81.58 L142.75,81.67 L143.00,81.61 L143.25,81.78 L143.50,81.65 L143.75,81.62 L144.00,81.79 L144.25,81.75 L144.50,81.46 L144.75,81.53 L145.00,81.47 L145.25,81.58 L145.50,81.52 L145.75,81.49 L146.00,81.49 L146.25,81.79 L146.50,81.58 L146.75,81.71 L147.00,81.56 L147.25,81.70 L147.50,81.61 L147.75,81.48 L148.00,81.58 L148.25,81.71 L148.50,81.62 L148.75,81.65 L149.00,81.47 L149.25,81.70 L149.50,81.69 L149.75,81.57 L150.00,81.76 L150.25,81.59 L150.50,81.47 L150.75,81.62 L151.00,81.71 L151.25,81.64 L151.50,81.61 L151.75,81.75 L152.00,81.76 L152.25,81.75 L152.50,81.70 L152.75,81.66 L153.00,81.70 L153.25,81.71 L153.50,81.77 L153.75,81.61 L154.00,81.51 L154.25,81.59 L154.50,81.60 L154.75,81.57 L155.00,81.73 L155.25,81.55 L155.50,81.64 L155.75,81.61 L156.00,81.59 L156.25,81.64 L156.50,81.69 L156.75,81.72 L157.00,81.72 L157.25,81.62 L157.50,81.67 L157.75,81.60 L158.00,81.80 L158.25,81.67 L158.50,81.49 L158.75,81.70 L159.00,81.59 L159.25,81.60 L159.50,81.65 L159.75,81.37 L160.00,81.55 L160.25,81.30 L160.50,81.36 L160.75,81.14 L161.00,80.45 L161.25,79.92 L161.50,78.92 L161.75,78.66 L162.00,78.65 L162.25,78.54 L162.50,77.62 L162.75,75.22 L163.00,74.96 L163.25,75.04 L163.50,75.25 L163.75,76.09 L164.00,75.68 L164.25,75.56 L164.50,75.58 L164.75,75.50 L165.00,73.43 L165.25,73.12 L165.50,73.04 L165.75,73.04 L166.00,73.45 L166.25,75.13 L166.50,75.03 L166.75,75.05 L167.00,75.30 L167.25,77.76 L167.50,77.50 L167.75,77.80 L168.00,77.73 L168.25,79.09 L168.50,79.13 L168.75,78.96 L169.00,79.13 L169.25,80.10 L169.50,80.03 L169.75,79.99 L170.00,80.11 L170.25,80.74 L170.50,81.06 L170.75,81.27 L171.00,81.31 L171.25,81.55 L171.50,81.57 L171.75,81.55 L172.00,81.63 L172.25,81.66 L172.50,81.51 L172.75,81.49 L173.00,81.62 L173.25,81.64 L173.50,81.73 L173.75,81.69 L174.00,81.75 L174.25,81.60 L174.50,81.60 L174.75,81.77 L175.00,81.48 L175.25,81.69 L175.50,81.50 L175.75,81.51 L176.00,81.46 L176.25,81.73 L176.50,81.65 L176.75,81.48 L177.00,81.80 L177.25,81.78 L177.50,81.60 L177.75,81.63 L178.00,81.48 L178.25,81.53 L178.50,81.61 L178.75,81.45 L179.00,81.62 L179.25,81.62 L179.50,81.56 L179.75,81.66 L180.00,81.67 L180.25,81.59 L180.50,81.68 L180.75,81.47 L181.00,81.56 L181.25,81.62 L181.50,81.77 L181.75,81.67 L182.00,81.66 L182.25,81.60 L182.50,81.60 L182.75,81.49 L183.00,81.46 L183.25,81.63 L183.50,81.65 L183.75,81.58 L184.00,81.45 L184.25,81.68 L184.50,81.61 L184.75,81.51 L185.00,81.74 L185.25,81.69 L185.50,81.46 L185.75,81.51 L186.00,81.62 L186.25,81.76 L186.50,81.49 L186.75,81.56 L187.00,81.51 L187.25,81.45 L187.50,81.49 L187.75,81.65 L188.00,81.75 L188.25,81.70 L188.50,81.62 L188.75,81.62 L189.00,81.73 L189.25,81.74 L189.50,81.58 L189.75,81.59 L190.00,81.68 L190.25,81.45 L190.50,81.58 L190.75,81.79 L191.00,81.66 L191.25,81.52 L191.50,81.69 L191.75,81.56 L192.00,81.80 L192.25,81.69 L192.50,81.51 L192.75,81.59 L193.00,81.57 L193.25,81.73 L193.50,81.63 L193.75,81.61 L194.00,81.71 L194.25,81.57 L194.50,81.61 L194.75,81.45 L195.00,81.60 L195.25,81.66 L195.50,81.76 L195.75,81.75 L196.00,81.53 L196.25,81.76 L196.50,81.76 L196.75,81.74 L197.00,81.62 L197.25,81.51 L197.50,81.59 L197.75,81.52 L198.00,81.78 L198.25,81.80 L198.50,81.53 L198.75,81.69 L199.00,81.55 L199.25,81.68 L199.50,81.74 L199.75,81.71 L200.00,81.77 L200.25,81.48 L200.50,81.60 L200.75,81.68 L201.00,81.64 L201.25,81.67 L201.50,81.78 L201.75,81.49 L202.00,81.60 L202.25,81.46 L202.50,81.65 L202.75,81.58 L203.00,81.71 L203.25,81.78 L203.50,81.47 L203.75,81.50 L204.00,81.69 L204.25,81.49 L204.30,81.80 Z" fill="#24498a"/>
<path d="M18.50,93.80 L18.50,93.51 L18.75,93.69 L19.00,93.59 L19.25,93.46 L19.50,93.63 L19.75,93.47 L20.00,93.71 L20.25,93.66 L20.50,93.55 L20.75,93.72 L21.00,93.69 L21.25,93.49 L21.50,93.63 L21.75,93.52 L22.00,93.71 L22.25,93.74 L22.50,93.67 L22.75,93.73 L23.00,93.45 L23.25,93.69 L23.50,93.59 L23.75,93.75 L24.00,93.59 L24.25,93.64 L24.50,93.63 L24.75,93.73 L25.00,93.70 L25.25,93.43 L25.50,93.57 L25.75,93.58 L26.00,93.55 L26.25,93.46 L26.50,93.39 L26.75,93.36 L27.00,93.00 L27.25,92.93 L27.50,92.74 L27.75,92.22 L28.00,92.27 L28.25,92.21 L28.50,92.01 L28.75,92.26 L29.00,92.14 L29.25,92.17 L29.50,92.52 L29.75,92.99 L30.00,93.11 L30.25,93.12 L30.50,93.35 L30.75,93.22 L31.00,93.54 L31.25,93.26 L31.50,93.30 L31.75,93.21 L32.00,92.83 L32.25,92.48 L32.50,91.55 L32.75,90.55 L33.00,88.51 L33.25,88.59 L33.50,88.67 L33.75,88.71 L34.00,88.61 L34.25,88.67 L34.50,85.53 L34.75,85.76 L35.00,85.62 L35.25,85.61 L35.50,85.74 L35.75,87.53 L36.00,87.67 L36.25,87.57 L36.50,86.14 L36.75,86.19 L37.00,86.16 L37.25,86.27 L37.50,86.27 L37.75,88.76 L38.00,87.71 L38.25,87.57 L38.50,87.76 L38.75,87.60 L39.00,87.70 L39.25,89.20 L39.50,86.73 L39.75,86.78 L40.00,86.69 L40.25,86.72 L40.50,86.79 L40.75,89.13 L41.00,88.72 L41.25,88.66 L41.50,88.48 L41.75,88.53 L42.00,88.51 L42.25,90.34 L42.50,89.75 L42.75,89.70 L43.00,89.79 L43.25,89.56 L43.50,89.57 L43.75,90.74 L44.00,90.16 L44.25,90.07 L44.50,90.06 L44.75,90.21 L45.00,90.00 L45.25,91.10 L45.50,91.58 L45.75,91.74 L46.00,91.76 L46.25,91.48 L46.50,91.54 L46.75,92.08 L47.00,92.78 L47.25,93.10 L47.50,93.27 L47.75,93.41 L48.00,93.47 L48.25,93.52 L48.50,93.63 L48.75,93.46 L49.00,93.24 L49.25,93.25 L49.50,92.80 L49.75,92.57 L50.00,92.04 L50.25,91.51 L50.50,90.65 L50.75,90.56 L51.00,90.68 L51.25,90.80 L51.50,90.51 L51.75,90.37 L52.00,88.72 L52.25,88.78 L52.50,88.50 L52.75,88.59 L53.00,88.81 L53.25,90.56 L53.50,90.26 L53.75,90.02 L54.00,90.23 L54.25,89.98 L54.50,90.04 L54.75,91.20 L55.00,91.79 L55.25,92.46 L55.50,92.71 L55.75,92.94 L56.00,93.31 L56.25,93.50 L56.50,93.29 L56.75,93.53 L57.00,93.39 L57.25,93.50 L57.50,93.50 L57.75,93.48 L58.00,93.56 L58.25,93.63 L58.50,93.77 L58.75,93.55 L59.00,93.65 L59.25,93.62 L59.50,93.48 L59.75,93.76 L60.00,93.53 L60.25,93.78 L60.50,93.55 L60.75,93.52 L61.00,93.71 L61.25,93.60 L61.50,93.45 L61.75,93.57 L62.00,93.59 L62.25,93.69 L62.50,93.75 L62.75,93.62 L63.00,93.58 L63.25,93.62 L63.50,93.54 L63.75,93.52 L64.00,93.22 L64.25,93.08 L64.50,93.01 L64.75,92.68 L65.00,92.11 L65.25,91.44 L65.50,90.47 L65.75,90.68 L66.00,90.70 L66.25,90.49 L66.50,90.75 L66.75,91.08 L67.00,89.70 L67.25,89.51 L67.50,89.61 L67.75,89.53 L68.00,89.76 L68.25,91.04 L68.50,91.09 L68.75,91.14 L69.00,91.03 L69.25,91.01 L69.50,91.26 L69.75,91.86 L70.00,92.42 L70.25,92.87 L70.50,93.19 L70.75,93.30 L71.00,93.45 L71.25,93.37 L71.50,93.51 L71.75,93.67 L72.00,93.62 L72.25,93.53 L72.50,93.51 L72.75,93.48 L73.00,93.37 L73.25,93.16 L73.50,92.45 L73.75,91.96 L74.00,91.28 L74.25,90.55 L74.50,90.46 L74.75,90.60 L75.00,89.61 L75.25,88.63 L75.50,88.65 L75.75,88.73 L76.00,88.61 L76.25,90.01 L76.50,90.98 L76.75,91.07 L77.00,91.08 L77.25,91.58 L77.50,92.37 L77.75,92.95 L78.00,93.23 L78.25,93.44 L78.50,93.46 L78.75,93.04 L79.00,92.80 L79.25,92.66 L79.50,92.22 L79.75,91.37 L80.00,90.50 L80.25,90.48 L80.50,90.74 L80.75,90.53 L81.00,90.51 L81.25,90.38 L81.50,88.71 L81.75,88.74 L82.00,88.51 L82.25,88.69 L82.50,88.69 L82.75,90.45 L83.00,89.67 L83.25,89.51 L83.50,89.72 L83.75,89.79 L84.00,89.60 L84.25,90.10 L84.50,88.04 L84.75,88.05 L85.00,87.98 L85.25,87.97 L85.50,88.15 L85.75,90.15 L86.00,91.54 L86.25,90.75 L86.50,89.60 L86.75,89.77 L87.00,89.56 L87.25,89.74 L87.50,89.64 L87.75,90.52 L88.00,90.77 L88.25,90.79 L88.50,90.65 L88.75,90.73 L89.00,90.55 L89.25,91.59 L89.50,92.00 L89.75,92.47 L90.00,92.82 L90.25,93.17 L90.50,93.37 L90.75,93.26 L91.00,93.17 L91.25,93.00 L91.50,92.72 L91.75,92.25 L92.00,91.52 L92.25,90.52 L92.50,90.48 L92.75,90.74 L93.00,90.70 L93.25,90.64 L93.50,91.22 L93.75,90.52 L94.00,88.75 L94.25,88.77 L94.50,88.69 L94.75,88.64 L95.00,88.48 L95.25,90.32 L95.50,90.00 L95.75,89.96 L96.00,89.96 L96.25,90.08 L96.50,90.02 L96.75,91.21 L97.00,91.80 L97.25,92.38 L97.50,92.87 L97.75,92.97 L98.00,92.67 L98.25,92.64 L98.50,92.57 L98.75,92.70 L99.00,92.68 L99.25,92.49 L99.50,92.79 L99.75,92.74 L100.00,92.77 L100.25,93.01 L100.50,93.27 L100.75,93.17 L101.00,93.35 L101.25,93.34 L101.50,93.45 L101.75,93.45 L102.00,93.47 L102.25,93.56 L102.50,93.68 L102.75,93.67 L103.00,93.44 L103.25,93.57 L103.50,93.73 L103.75,93.47 L104.00,93.69 L104.25,93.75 L104.50,93.60 L104.75,93.70 L105.00,93.62 L105.25,93.60 L105.50,93.72 L105.75,93.60 L106.00,93.76 L106.25,93.62 L106.50,93.59 L106.75,93.77 L107.00,93.66 L107.25,93.77 L107.50,93.65 L107.75,93.50 L108.00,93.61 L108.25,93.55 L108.50,93.54 L108.75,93.76 L109.00,93.45 L109.25,93.55 L109.50,93.76 L109.75,93.51 L110.00,93.66 L110.25,93.74 L110.50,93.46 L110.75,93.60 L111.00,93.53 L111.25,93.75 L111.50,93.53 L111.75,93.78 L112.00,93.72 L112.25,93.67 L112.50,93.79 L112.75,93.59 L113.00,93.73 L113.25,93.70 L113.50,93.55 L113.75,93.65 L114.00,93.49 L114.25,93.58 L114.50,93.49 L114.75,93.60 L115.00,93.48 L115.25,93.50 L115.50,93.74 L115.75,93.54 L116.00,93.68 L116.25,93.53 L116.50,93.56 L116.75,93.51 L117.00,93.76 L117.25,93.67 L117.50,93.54 L117.75,93.47 L118.00,93.55 L118.25,93.78 L118.50,93.59 L118.75,93.77 L119.00,93.61 L119.25,93.52 L119.50,93.76 L119.75,93.48 L120.00,93.56 L120.25,93.71 L120.50,93.73 L120.75,93.64 L121.00,93.51 L121.25,93.60 L121.50,93.76 L121.75,93.79 L122.00,93.76 L122.25,93.52 L122.50,93.74 L122.75,93.61 L123.00,93.70 L123.25,93.56 L123.50,93.67 L123.75,93.75 L124.00,93.49 L124.25,93.61 L124.50,93.56 L124.75,93.52 L125.00,93.47 L125.25,93.80 L125.50,93.68 L125.75,93.75 L126.00,93.62 L126.25,93.49 L126.50,93.52 L126.75,93.79 L127.00,93.74 L127.25,93.51 L127.50,93.56 L127.75,93.66 L128.00,93.63 L128.25,93.74 L128.50,93.50 L128.75,93.66 L129.00,93.49 L129.25,93.59 L129.50,93.77 L129.75,93.68 L130.00,93.72 L130.25,93.49 L130.50,93.59 L130.75,93.78 L131.00,93.74 L131.25,93.67 L131.50,93.64 L131.75,93.60 L132.00,93.66 L132.25,93.68 L132.50,93.80 L132.75,93.60 L133.00,93.68 L133.25,93.79 L133.50,93.64 L133.75,93.45 L134.00,93.78 L134.25,93.75 L134.50,93.57 L134.75,93.70 L135.00,93.70 L135.25,93.62 L135.50,93.71 L135.75,93.60 L136.00,93.62 L136.25,93.47 L136.50,93.45 L136.75,93.79 L137.00,93.58 L137.25,93.50 L137.50,93.44 L137.75,93.44 L138.00,93.44 L138.25,93.34 L138.50,93.29 L138.75,93.06 L139.00,92.47 L139.25,91.76 L139.50,90.62 L139.75,90.56 L140.00,90.69 L140.25,90.53 L140.50,90.69 L140.75,91.89 L141.00,92.53 L141.25,93.04 L141.50,93.22 L141.75,93.42 L142.00,93.64 L142.25,93.60 L142.50,93.63 L142.75,93.42 L143.00,93.61 L143.25,93.67 L143.50,93.71 L143.75,93.72 L144.00,93.68 L144.25,93.75 L144.50,93.80 L144.75,93.50 L145.00,93.64 L145.25,93.64 L145.50,93.60 L145.75,93.69 L146.00,93.74 L146.25,93.78 L146.50,93.68 L146.75,93.66 L147.00,93.49 L147.25,93.52 L147.50,93.33 L147.75,93.45 L148.00,93.09 L148.25,92.96 L148.50,92.72 L148.75,92.01 L149.00,90.74 L149.25,90.45 L149.50,90.68 L149.75,90.53 L150.00,90.80 L150.25,91.77 L150.50,92.73 L150.75,92.99 L151.00,93.10 L151.25,93.47 L151.50,93.57 L151.75,93.71 L152.00,93.69 L152.25,93.67 L152.50,93.53 L152.75,93.72 L153.00,93.66 L153.25,93.73 L153.50,93.59 L153.75,93.50 L154.00,93.57 L154.25,93.73 L154.50,93.54 L154.75,93.46 L155.00,93.59 L155.25,93.77 L155.50,93.52 L155.75,93.49 L156.00,93.68 L156.25,93.75 L156.50,93.73 L156.75,93.61 L157.00,93.49 L157.25,93.58 L157.50,93.48 L157.75,93.72 L158.00,93.68 L158.25,93.53 L158.50,93.56 L158.75,93.64 L159.00,93.54 L159.25,93.65 L159.50,93.73 L159.75,93.59 L160.00,93.69 L160.25,93.44 L160.50,93.47 L160.75,93.32 L161.00,93.14 L161.25,93.05 L161.50,92.68 L161.75,92.40 L162.00,91.43 L162.25,90.62 L162.50,90.45 L162.75,90.78 L163.00,90.59 L163.25,90.55 L163.50,90.22 L163.75,88.77 L164.00,88.75 L164.25,88.75 L164.50,88.53 L164.75,89.22 L165.00,89.53 L165.25,89.65 L165.50,89.61 L165.75,89.59 L166.00,89.62 L166.25,91.04 L166.50,90.59 L166.75,90.68 L167.00,90.54 L167.25,90.71 L167.50,90.55 L167.75,91.01 L168.00,89.55 L168.25,89.69 L168.50,89.53 L168.75,89.46 L169.00,89.66 L169.25,91.18 L169.50,90.13 L169.75,89.97 L170.00,90.25 L170.25,90.30 L170.50,90.15 L170.75,91.36 L171.00,91.03 L171.25,91.17 L171.50,90.95 L171.75,91.22 L172.00,91.04 L172.25,91.93 L172.50,92.53 L172.75,92.89 L173.00,93.16 L173.25,92.77 L173.50,92.42 L173.75,92.10 L174.00,91.47 L174.25,91.67 L174.50,91.75 L174.75,91.74 L175.00,91.54 L175.25,91.84 L175.50,92.56 L175.75,92.56 L176.00,92.03 L176.25,92.22 L176.50,91.96 L176.75,92.13 L177.00,92.08 L177.25,92.45 L177.50,92.34 L177.75,92.00 L178.00,91.69 L178.25,91.48 L178.50,91.76 L178.75,91.54 L179.00,91.78 L179.25,91.94 L179.50,92.48 L179.75,92.27 L180.00,92.28 L180.25,92.10 L180.50,92.16 L180.75,91.98 L181.00,91.97 L181.25,92.35 L181.50,92.83 L181.75,92.73 L182.00,92.51 L182.25,92.45 L182.50,92.52 L182.75,92.53 L183.00,92.33 L183.25,92.59 L183.50,92.98 L183.75,92.94 L184.00,93.35 L184.25,93.33 L184.50,93.55 L184.75,93.36 L185.00,93.39 L185.25,93.63 L185.50,93.48 L185.75,93.47 L186.00,93.67 L186.25,93.66 L186.50,93.62 L186.75,93.48 L187.00,93.74 L187.25,93.56 L187.50,93.59 L187.75,93.64 L188.00,93.60 L188.25,93.49 L188.50,93.73 L188.75,93.49 L189.00,93.67 L189.25,93.53 L189.50,93.50 L189.75,93.74 L190.00,93.50 L190.25,93.45 L190.50,93.70 L190.75,93.79 L191.00,93.76 L191.25,93.46 L191.50,93.80 L191.75,93.48 L192.00,93.75 L192.25,93.54 L192.50,93.77 L192.75,93.74 L193.00,93.56 L193.25,93.77 L193.50,93.68 L193.75,93.48 L194.00,93.55 L194.25,93.49 L194.50,93.46 L194.75,93.79 L195.00,93.72 L195.25,93.52 L195.50,93.56 L195.75,93.79 L196.00,93.62 L196.25,93.72 L196.50,93.65 L196.75,93.76 L197.00,93.79 L197.25,93.45 L197.50,93.69 L197.75,93.49 L198.00,93.76 L198.25,93.63 L198.50,93.75 L198.75,93.65 L199.00,93.74 L199.25,93.56 L199.50,93.75 L199.75,93.54 L200.00,93.62 L200.25,93.76 L200.50,93.68 L200.75,93.63 L201.00,93.48 L201.25,93.68 L201.50,93.72 L201.75,93.46 L202.00,93.49 L202.25,93.54 L202.50,93.70 L202.75,93.74 L203.00,93.71 L203.25,93.78 L203.50,93.78 L203.75,93.62 L204.00,93.66 L204.25,93.61 L204.30,93.80 Z" fill="#4e2468"/>
<path d="M228.90,58.80 L228.90,58.67 L229.15,58.80 L229.40,58.56 L229.65,58.57 L229.90,58.61 L230.15,58.61 L230.40,58.56 L230.65,58.46 L230.90,58.49 L231.15,58.55 L231.40,58.66 L231.65,58.69 L231.90,58.65 L232.15,58.46 L232.40,58.66 L232.65,58.67 L232.90,58.66 L233.15,58.75 L233.40,58.45 L233.65,58.80 L233.90,58.59 L234.15,58.48 L234.40,58.71 L234.65,58.59 L234.90,58.67 L235.15,58.72 L235.40,58.73 L235.65,58.76 L235.90,58.50 L236.15,58.53 L236.40,58.48 L236.65,58.78 L236.90,58.56 L237.15,58.69 L237.40,58.57 L237.65,58.61 L237.90,58.69 L238.15,58.46 L238.40,58.80 L238.65,58.54 L238.90,58.50 L239.15,58.62 L239.40,58.59 L239.65,58.45 L239.90,58.72 L240.15,58.58 L240.40,58.54 L240.65,58.67 L240.90,58.55 L241.15,58.66 L241.40,58.62 L241.65,58.59 L241.90,58.56 L242.15,58.69 L242.40,58.58 L242.65,58.61 L242.90,58.72 L243.15,58.58 L243.40,58.71 L243.65,58.48 L243.90,58.63 L244.15,58.54 L244.40,58.61 L244.65,58.63 L244.90,58.71 L245.15,58.74 L245.40,58.46 L245.65,58.60 L245.90,58.59 L246.15,58.57 L246.40,58.43 L246.65,58.58 L246.90,58.52 L247.15,58.15 L247.40,58.04 L247.65,57.59 L247.90,56.88 L248.15,55.80 L248.40,54.07 L248.65,54.08 L248.90,53.97 L249.15,55.23 L249.40,56.52 L249.65,57.55 L249.90,57.36 L250.15,57.21 L250.40,57.26 L250.65,57.18 L250.90,57.13 L251.15,56.92 L251.40,55.85 L251.65,54.16 L251.90,52.06 L252.15,51.85 L252.40,52.34 L252.65,54.87 L252.90,56.35 L253.15,57.13 L253.40,57.69 L253.65,58.24 L253.90,58.25 L254.15,58.48 L254.40,58.50 L254.65,58.65 L254.90,58.63 L255.15,58.66 L255.40,58.65 L255.65,58.78 L255.90,58.72 L256.15,58.59 L256.40,58.77 L256.65,58.73 L256.90,58.55 L257.15,58.70 L257.40,58.68 L257.65,58.71 L257.90,58.51 L258.15,58.77 L258.40,58.58 L258.65,58.50 L258.90,58.73 L259.15,58.65 L259.40,58.52 L259.65,58.57 L259.90,58.66 L260.15,58.77 L260.40,58.62 L260.65,58.64 L260.90,58.50 L261.15,58.63 L261.40,58.57 L261.65,58.45 L261.90,58.35 L262.15,58.45 L262.40,58.36 L262.65,58.18 L262.90,57.90 L263.15,57.94 L263.40,57.46 L263.65,57.55 L263.90,57.67 L264.15,57.67 L264.40,58.03 L264.65,58.30 L264.90,58.19 L265.15,58.41 L265.40,58.43 L265.65,58.49 L265.90,58.38 L266.15,58.46 L266.40,58.74 L266.65,58.55 L266.90,58.61 L267.15,58.62 L267.40,58.49 L267.65,58.64 L267.90,58.63 L268.15,58.48 L268.40,58.64 L268.65,58.62 L268.90,58.61 L269.15,58.49 L269.40,58.54 L269.65,58.51 L269.90,58.62 L270.15,58.74 L270.40,58.50 L270.65,58.53 L270.90,58.43 L271.15,58.40 L271.40,58.59 L271.65,58.45 L271.90,58.33 L272.15,57.78 L272.40,57.55 L272.65,56.77 L272.90,55.24 L273.15,55.10 L273.40,55.28 L273.65,56.12 L273.90,56.55 L274.15,56.63 L274.40,56.78 L274.65,56.56 L274.90,56.84 L275.15,55.61 L275.40,54.95 L275.65,55.01 L275.90,55.80 L276.15,57.11 L276.40,57.69 L276.65,58.02 L276.90,58.43 L277.15,58.23 L277.40,58.57 L277.65,58.60 L277.90,58.61 L278.15,58.65 L278.40,58.45 L278.65,58.57 L278.90,58.59 L279.15,58.59 L279.40,58.68 L279.65,58.53 L279.90,58.23 L280.15,58.08 L280.40,57.78 L280.65,57.52 L280.90,56.77 L281.15,55.55 L281.40,53.29 L281.65,49.89 L281.90,48.34 L282.15,48.33 L282.40,50.65 L282.65,53.86 L282.90,55.60 L283.15,56.96 L283.40,57.40 L283.65,57.90 L283.90,57.71 L284.15,57.19 L284.40,57.11 L284.65,57.16 L284.90,57.53 L285.15,57.98 L285.40,58.24 L285.65,58.21 L285.90,58.49 L286.15,58.42 L286.40,58.43 L286.65,58.53 L286.90,58.60 L287.15,58.44 L287.40,58.59 L287.65,58.41 L287.90,58.66 L288.15,58.46 L288.40,58.29 L288.65,58.35 L288.90,57.84 L289.15,57.78 L289.40,57.07 L289.65,56.44 L289.90,55.98 L290.15,56.10 L290.40,56.40 L290.65,57.23 L290.90,57.64 L291.15,57.96 L291.40,58.30 L291.65,58.46 L291.90,58.33 L292.15,58.63 L292.40,58.40 L292.65,58.68 L292.90,58.73 L293.15,58.75 L293.40,58.51 L293.65,58.46 L293.90,58.65 L294.15,58.57 L294.40,58.71 L294.65,58.48 L294.90,58.56 L295.15,58.75 L295.40,58.78 L295.65,58.56 L295.90,58.79 L296.15,58.51 L296.40,58.70 L296.65,58.72 L296.90,58.60 L297.15,58.69 L297.40,58.60 L297.65,58.75 L297.90,58.48 L298.15,58.69 L298.40,58.51 L298.65,58.75 L298.90,58.52 L299.15,58.46 L299.40,58.66 L299.65,58.79 L299.90,58.67 L300.15,58.58 L300.40,58.72 L300.65,58.61 L300.90,58.77 L301.15,58.64 L301.40,58.54 L301.65,58.65 L301.90,58.56 L302.15,58.75 L302.40,58.50 L302.65,58.74 L302.90,58.45 L303.15,58.41 L303.40,58.41 L303.65,58.53 L303.90,58.56 L304.15,58.47 L304.40,58.23 L304.65,58.15 L304.90,57.76 L305.15,57.77 L305.40,57.63 L305.65,57.50 L305.90,57.87 L306.15,58.14 L306.40,58.46 L306.65,58.55 L306.90,58.57 L307.15,58.40 L307.40,58.45 L307.65,58.68 L307.90,58.45 L308.15,58.77 L308.40,58.58 L308.65,58.45 L308.90,58.67 L309.15,58.47 L309.40,58.57 L309.65,58.78 L309.90,58.68 L310.15,58.64 L310.40,58.71 L310.65,58.54 L310.90,58.74 L311.15,58.52 L311.40,58.70 L311.65,58.78 L311.90,58.60 L312.15,58.77 L312.40,58.61 L312.65,58.52 L312.90,58.59 L313.15,58.64 L313.40,58.79 L313.65,58.62 L313.90,58.77 L314.15,58.57 L314.40,58.75 L314.65,58.60 L314.90,58.68 L315.15,58.67 L315.40,58.57 L315.65,58.74 L315.90,58.74 L316.15,58.47 L316.40,58.68 L316.65,58.51 L316.90,58.49 L317.15,58.63 L317.40,58.75 L317.65,58.77 L317.90,58.49 L318.15,58.76 L318.40,58.63 L318.65,58.61 L318.90,58.76 L319.15,58.64 L319.40,58.74 L319.65,58.61 L319.90,58.62 L320.15,58.67 L320.40,58.73 L320.65,58.66 L320.90,58.73 L321.15,58.76 L321.40,58.72 L321.65,58.49 L321.90,58.62 L322.15,58.49 L322.40,58.79 L322.65,58.47 L322.90,58.63 L323.15,58.52 L323.40,58.60 L323.65,58.56 L323.90,58.72 L324.15,58.54 L324.40,58.75 L324.65,58.71 L324.90,58.79 L325.15,58.66 L325.40,58.62 L325.65,58.70 L325.90,58.49 L326.15,58.77 L326.40,58.60 L326.65,58.72 L326.90,58.59 L327.15,58.53 L327.40,58.55 L327.65,58.78 L327.90,58.71 L328.15,58.59 L328.40,58.46 L328.65,58.79 L328.90,58.58 L329.15,58.56 L329.40,58.51 L329.65,58.68 L329.90,58.52 L330.15,58.64 L330.40,58.48 L330.65,58.80 L330.90,58.47 L331.15,58.66 L331.40,58.66 L331.65,58.77 L331.90,58.71 L332.15,58.54 L332.40,58.56 L332.65,58.75 L332.90,58.68 L333.15,58.75 L333.40,58.73 L333.65,58.72 L333.90,58.68 L334.15,58.46 L334.40,58.45 L334.65,58.52 L334.90,58.63 L335.15,58.63 L335.40,58.53 L335.65,58.48 L335.90,58.54 L336.15,58.58 L336.40,58.73 L336.65,58.58 L336.90,58.50 L337.15,58.52 L337.40,58.77 L337.65,58.55 L337.90,58.68 L338.15,58.74 L338.40,58.46 L338.65,58.56 L338.90,58.54 L339.15,58.75 L339.40,58.51 L339.65,58.47 L339.90,58.48 L340.15,58.54 L340.40,58.51 L340.65,58.52 L340.90,58.59 L341.15,58.65 L341.40,58.51 L341.65,58.53 L341.90,58.50 L342.15,58.70 L342.40,58.46 L342.65,58.61 L342.90,58.47 L343.15,58.76 L343.40,58.46 L343.65,58.52 L343.90,58.71 L344.15,58.51 L344.40,58.72 L344.65,58.73 L344.90,58.64 L345.15,58.72 L345.40,58.63 L345.65,58.48 L345.90,58.56 L346.15,58.55 L346.40,58.66 L346.65,58.53 L346.90,58.52 L347.15,58.56 L347.40,58.47 L347.65,58.51 L347.90,58.66 L348.15,58.77 L348.40,58.57 L348.65,58.51 L348.90,58.68 L349.15,58.59 L349.40,58.51 L349.65,58.52 L349.90,58.80 L350.15,58.63 L350.40,58.79 L350.65,58.76 L350.90,58.52 L351.15,58.65 L351.40,58.59 L351.65,58.64 L351.90,58.68 L352.15,58.73 L352.40,58.68 L352.65,58.50 L352.90,58.58 L353.15,58.69 L353.40,58.76 L353.65,58.69 L353.90,58.53 L354.15,58.60 L354.40,58.49 L354.65,58.39 L354.90,58.55 L355.15,58.21 L355.40,58.21 L355.65,57.57 L355.90,57.18 L356.15,56.13 L356.40,54.22 L356.65,53.17 L356.90,53.22 L357.15,53.80 L357.40,55.74 L357.65,56.76 L357.90,57.62 L358.15,57.99 L358.40,58.08 L358.65,58.39 L358.90,58.31 L359.15,58.65 L359.40,58.43 L359.65,58.65 L359.90,58.49 L360.15,58.64 L360.40,58.53 L360.65,58.21 L360.90,58.30 L361.15,58.08 L361.40,58.15 L361.65,57.96 L361.90,57.84 L362.15,57.42 L362.40,56.98 L362.65,56.67 L362.90,56.16 L363.15,55.47 L363.40,55.49 L363.65,54.89 L363.90,53.19 L364.15,50.12 L364.40,49.44 L364.65,49.26 L364.90,50.89 L365.15,53.43 L365.40,55.19 L365.65,56.44 L365.90,57.15 L366.15,57.59 L366.40,57.84 L366.65,58.20 L366.90,58.39 L367.15,58.28 L367.40,58.66 L367.65,58.43 L367.90,58.50 L368.15,58.56 L368.40,58.61 L368.65,58.51 L368.90,58.47 L369.15,58.53 L369.40,58.53 L369.65,58.78 L369.90,58.68 L370.15,58.75 L370.40,58.46 L370.65,58.48 L370.90,58.75 L371.15,58.59 L371.40,58.60 L371.65,58.78 L371.90,58.66 L372.15,58.54 L372.40,58.58 L372.65,58.70 L372.90,58.53 L373.15,58.70 L373.40,58.61 L373.65,58.65 L373.90,58.46 L374.15,58.57 L374.40,58.52 L374.65,58.56 L374.90,58.67 L375.15,58.46 L375.40,58.55 L375.65,58.56 L375.90,58.70 L376.15,58.74 L376.40,58.60 L376.65,58.51 L376.90,58.52 L377.15,58.68 L377.40,58.75 L377.65,58.62 L377.90,58.49 L378.15,58.74 L378.40,58.54 L378.65,58.74 L378.90,58.69 L379.15,58.78 L379.40,58.70 L379.65,58.67 L379.90,58.46 L380.15,58.46 L380.40,58.73 L380.65,58.69 L380.90,58.47 L381.15,58.73 L381.40,58.69 L381.65,58.65 L381.90,58.76 L382.15,58.71 L382.40,58.66 L382.65,58.67 L382.90,58.46 L383.15,58.71 L383.40,58.73 L383.65,58.48 L383.90,58.64 L384.15,58.51 L384.40,58.58 L384.65,58.53 L384.90,58.69 L385.15,58.75 L385.40,58.54 L385.65,58.64 L385.90,58.60 L386.15,58.57 L386.40,58.54 L386.65,58.70 L386.90,58.67 L387.15,58.48 L387.40,58.61 L387.65,58.70 L387.90,58.58 L388.15,58.71 L388.40,58.53 L388.65,58.79 L388.90,58.51 L389.15,58.60 L389.40,58.68 L389.65,58.47 L389.90,58.71 L390.15,58.71 L390.40,58.77 L390.65,58.60 L390.90,58.53 L391.15,58.56 L391.40,58.65 L391.65,58.51 L391.90,58.75 L392.15,58.68 L392.40,58.55 L392.65,58.43 L392.90,58.54 L393.15,58.51 L393.40,58.47 L393.65,58.59 L393.90,58.38 L394.15,58.42 L394.40,58.53 L394.65,58.47 L394.90,58.27 L395.15,58.36 L395.40,58.32 L395.65,57.96 L395.90,57.93 L396.15,57.74 L396.40,57.44 L396.65,57.04 L396.90,56.90 L397.15,56.30 L397.40,55.78 L397.65,55.66 L397.90,54.37 L398.15,52.04 L398.40,48.77 L398.65,48.80 L398.90,48.86 L399.15,50.97 L399.40,53.67 L399.65,55.19 L399.90,56.34 L400.15,57.07 L400.40,57.80 L400.65,57.94 L400.90,58.12 L401.15,58.35 L401.40,58.31 L401.65,58.37 L401.90,58.46 L402.15,58.45 L402.40,58.53 L402.65,58.46 L402.90,58.73 L403.15,58.52 L403.40,58.49 L403.65,58.48 L403.90,58.53 L404.15,58.50 L404.40,58.13 L404.65,57.75 L404.90,57.45 L405.15,56.66 L405.40,55.31 L405.65,53.14 L405.90,51.96 L406.15,51.86 L406.40,53.43 L406.65,55.59 L406.90,56.68 L407.15,57.64 L407.40,57.82 L407.65,58.27 L407.90,58.55 L408.15,58.43 L408.40,58.66 L408.65,58.65 L408.90,58.75 L409.15,58.62 L409.40,58.59 L409.65,58.51 L409.90,58.78 L410.15,58.51 L410.40,58.76 L410.65,58.72 L410.90,58.58 L411.15,58.68 L411.40,58.68 L411.65,58.60 L411.90,58.72 L412.15,58.52 L412.40,58.73 L412.65,58.51 L412.90,58.52 L413.15,58.61 L413.40,58.79 L413.65,58.53 L413.90,58.79 L414.15,58.62 L414.40,58.65 L414.65,58.78 L414.90,58.58 L415.15,58.55 L415.40,58.60 L415.65,58.66 L415.90,58.62 L416.15,58.59 L416.40,58.72 L416.65,58.50 L416.90,58.45 L417.15,58.52 L417.40,58.46 L417.65,58.68 L417.90,58.45 L418.15,58.78 L418.40,58.63 L418.65,58.75 L418.90,58.64 L419.15,58.56 L419.40,58.55 L419.65,58.64 L419.90,58.68 L420.15,58.73 L420.40,58.66 L420.65,58.70 L420.90,58.73 L421.15,58.54 L421.40,58.62 L421.65,58.65 L421.90,58.73 L422.15,58.55 L422.40,58.73 L422.65,58.71 L422.90,58.60 L423.15,58.55 L423.40,58.46 L423.65,58.54 L423.90,58.47 L424.15,58.48 L424.40,58.55 L424.65,58.55 L424.90,58.78 L425.15,58.73 L425.40,58.80 L425.65,58.50 L425.90,58.55 L426.15,58.58 L426.40,58.71 L426.65,58.68 L426.90,58.74 L427.15,58.58 L427.40,58.45 L427.60,58.80 Z" fill="#931a3d"/>
<path d="M228.90,70.50 L228.90,70.39 L229.15,70.48 L229.40,70.44 L229.65,70.38 L229.90,70.19 L230.15,70.22 L230.40,70.34 L230.65,70.46 L230.90,70.46 L231.15,70.45 L231.40,70.23 L231.65,70.34 L231.90,70.15 L232.15,70.18 L232.40,70.22 L232.65,70.33 L232.90,70.21 L233.15,70.46 L233.40,70.46 L233.65,70.30 L233.90,70.32 L234.15,70.43 L234.40,70.41 L234.65,70.49 L234.90,70.18 L235.15,70.25 L235.40,70.17 L235.65,70.16 L235.90,70.35 L236.15,70.24 L236.40,70.37 L236.65,70.22 L236.90,70.21 L237.15,70.45 L237.40,70.50 L237.65,70.43 L237.90,70.30 L238.15,70.37 L238.40,70.50 L238.65,70.21 L238.90,70.22 L239.15,70.34 L239.40,70.48 L239.65,70.19 L239.90,70.31 L240.15,70.48 L240.40,70.39 L240.65,70.28 L240.90,70.19 L241.15,70.33 L241.40,70.28 L241.65,70.43 L241.90,70.41 L242.15,70.18 L242.40,70.37 L242.65,70.46 L242.90,70.29 L243.15,70.46 L243.40,70.43 L243.65,70.34 L243.90,70.30 L244.15,70.28 L244.40,70.25 L244.65,70.35 L244.90,70.48 L245.15,70.25 L245.40,70.48 L245.65,70.33 L245.90,70.35 L246.15,70.25 L246.40,70.22 L246.65,70.36 L246.90,70.19 L247.15,70.12 L247.40,70.10 L247.65,70.06 L247.90,69.54 L248.15,69.24 L248.40,68.75 L248.65,67.56 L248.90,65.45 L249.15,65.42 L249.40,65.36 L249.65,66.74 L249.90,68.10 L250.15,68.99 L250.40,69.00 L250.65,68.45 L250.90,67.11 L251.15,64.62 L251.40,63.72 L251.65,63.99 L251.90,65.47 L252.15,67.38 L252.40,68.33 L252.65,69.30 L252.90,69.59 L253.15,69.76 L253.40,70.03 L253.65,70.03 L253.90,70.32 L254.15,70.39 L254.40,70.46 L254.65,70.21 L254.90,70.45 L255.15,70.16 L255.40,70.25 L255.65,70.43 L255.90,70.22 L256.15,70.44 L256.40,70.32 L256.65,70.46 L256.90,70.22 L257.15,70.19 L257.40,70.18 L257.65,70.50 L257.90,70.20 L258.15,70.31 L258.40,70.21 L258.65,70.32 L258.90,70.28 L259.15,70.29 L259.40,70.22 L259.65,70.47 L259.90,70.48 L260.15,70.30 L260.40,70.38 L260.65,70.34 L260.90,70.47 L261.15,70.19 L261.40,70.42 L261.65,70.10 L261.90,70.05 L262.15,70.09 L262.40,70.08 L262.65,69.70 L262.90,69.56 L263.15,69.03 L263.40,68.46 L263.65,68.16 L263.90,68.31 L264.15,68.82 L264.40,69.44 L264.65,69.57 L264.90,69.76 L265.15,69.91 L265.40,70.27 L265.65,70.24 L265.90,70.31 L266.15,70.18 L266.40,70.41 L266.65,70.26 L266.90,70.14 L267.15,70.22 L267.40,70.49 L267.65,70.47 L267.90,70.46 L268.15,70.26 L268.40,70.29 L268.65,70.32 L268.90,70.34 L269.15,70.36 L269.40,70.29 L269.65,70.27 L269.90,70.17 L270.15,70.24 L270.40,70.21 L270.65,70.16 L270.90,70.17 L271.15,70.19 L271.40,70.39 L271.65,70.10 L271.90,69.94 L272.15,69.92 L272.40,69.48 L272.65,69.26 L272.90,68.23 L273.15,67.15 L273.40,64.98 L273.65,64.81 L273.90,64.79 L274.15,66.47 L274.40,68.02 L274.65,69.03 L274.90,69.47 L275.15,69.63 L275.40,69.95 L275.65,69.98 L275.90,70.12 L276.15,70.14 L276.40,70.11 L276.65,70.21 L276.90,70.39 L277.15,70.40 L277.40,70.35 L277.65,70.49 L277.90,70.42 L278.15,70.19 L278.40,70.18 L278.65,70.38 L278.90,70.23 L279.15,70.22 L279.40,70.18 L279.65,70.21 L279.90,70.29 L280.15,70.43 L280.40,70.16 L280.65,70.31 L280.90,70.17 L281.15,70.20 L281.40,70.05 L281.65,69.76 L281.90,69.84 L282.15,69.39 L282.40,69.27 L282.65,69.31 L282.90,69.33 L283.15,69.80 L283.40,69.81 L283.65,70.02 L283.90,70.00 L284.15,70.36 L284.40,70.36 L284.65,70.35 L284.90,70.15 L285.15,70.48 L285.40,70.40 L285.65,70.24 L285.90,70.15 L286.15,70.43 L286.40,70.34 L286.65,70.25 L286.90,70.25 L287.15,70.22 L287.40,70.21 L287.65,70.38 L287.90,70.36 L288.15,70.41 L288.40,70.14 L288.65,70.25 L288.90,70.15 L289.15,69.76 L289.40,69.67 L289.65,69.37 L289.90,69.27 L290.15,69.29 L290.40,69.41 L290.65,69.84 L290.90,70.11 L291.15,70.23 L291.40,70.34 L291.65,70.27 L291.90,70.38 L292.15,70.41 L292.40,70.30 L292.65,70.14 L292.90,70.25 L293.15,70.40 L293.40,70.22 L293.65,70.43 L293.90,70.46 L294.15,70.39 L294.40,70.36 L294.65,70.26 L294.90,70.34 L295.15,70.25 L295.40,70.47 L295.65,70.17 L295.90,70.38 L296.15,70.21 L296.40,70.49 L296.65,70.21 L296.90,70.42 L297.15,70.20 L297.40,70.22 L297.65,70.27 L297.90,70.40 L298.15,70.50 L298.40,70.43 L298.65,70.18 L298.90,70.44 L299.15,70.27 L299.40,70.29 L299.65,70.27 L299.90,70.44 L300.15,70.45 L300.40,70.47 L300.65,70.16 L300.90,70.36 L301.15,70.27 L301.40,70.30 L301.65,70.42 L301.90,70.47 L302.15,70.48 L302.40,70.18 L302.65,70.43 L302.90,70.12 L303.15,70.31 L303.40,70.16 L303.65,70.32 L303.90,70.02 L304.15,70.10 L304.40,69.90 L304.65,69.61 L304.90,69.39 L305.15,68.91 L305.40,68.72 L305.65,68.90 L305.90,69.29 L306.15,69.52 L306.40,69.95 L306.65,70.12 L306.90,70.22 L307.15,70.23 L307.40,70.28 L307.65,70.22 L307.90,70.30 L308.15,70.17 L308.40,70.47 L308.65,70.26 L308.90,70.20 L309.15,70.41 L309.40,70.49 L309.65,70.34 L309.90,70.46 L310.15,70.34 L310.40,70.25 L310.65,70.47 L310.90,70.46 L311.15,70.33 L311.40,70.44 L311.65,70.42 L311.90,70.35 L312.15,70.46 L312.40,70.48 L312.65,70.37 L312.90,70.34 L313.15,70.17 L313.40,70.31 L313.65,70.47 L313.90,70.42 L314.15,70.24 L314.40,70.30 L314.65,70.20 L314.90,70.16 L315.15,70.20 L315.40,70.46 L315.65,70.17 L315.90,70.32 L316.15,70.42 L316.40,70.44 L316.65,70.20 L316.90,70.43 L317.15,70.47 L317.40,70.41 L317.65,70.18 L317.90,70.34 L318.15,70.24 L318.40,70.47 L318.65,70.34 L318.90,70.39 L319.15,70.43 L319.40,70.27 L319.65,70.37 L319.90,70.46 L320.15,70.16 L320.40,70.33 L320.65,70.44 L320.90,70.50 L321.15,70.27 L321.40,70.32 L321.65,70.49 L321.90,70.34 L322.15,70.24 L322.40,70.31 L322.65,70.42 L322.90,70.33 L323.15,70.29 L323.40,70.27 L323.65,70.45 L323.90,70.22 L324.15,70.17 L324.40,70.24 L324.65,70.20 L324.90,70.37 L325.15,70.18 L325.40,70.44 L325.65,70.42 L325.90,70.29 L326.15,70.18 L326.40,70.47 L326.65,70.42 L326.90,70.49 L327.15,70.35 L327.40,70.45 L327.65,70.43 L327.90,70.24 L328.15,70.30 L328.40,70.17 L328.65,70.36 L328.90,70.26 L329.15,70.50 L329.40,70.17 L329.65,70.42 L329.90,70.33 L330.15,70.32 L330.40,70.17 L330.65,70.33 L330.90,70.15 L331.15,70.28 L331.40,70.42 L331.65,70.21 L331.90,70.43 L332.15,70.15 L332.40,70.34 L332.65,70.42 L332.90,70.16 L333.15,70.39 L333.40,70.36 L333.65,70.38 L333.90,70.27 L334.15,70.49 L334.40,70.37 L334.65,70.44 L334.90,70.21 L335.15,70.50 L335.40,70.29 L335.65,70.41 L335.90,70.34 L336.15,70.30 L336.40,70.25 L336.65,70.45 L336.90,70.42 L337.15,70.46 L337.40,70.16 L337.65,70.45 L337.90,70.45 L338.15,70.32 L338.40,70.30 L338.65,70.19 L338.90,70.48 L339.15,70.42 L339.40,70.44 L339.65,70.30 L339.90,70.34 L340.15,70.36 L340.40,70.19 L340.65,70.27 L340.90,70.20 L341.15,70.17 L341.40,70.41 L341.65,70.17 L341.90,70.36 L342.15,70.48 L342.40,70.18 L342.65,70.46 L342.90,70.49 L343.15,70.40 L343.40,70.40 L343.65,70.16 L343.90,70.20 L344.15,70.35 L344.40,70.31 L344.65,70.20 L344.90,70.22 L345.15,70.27 L345.40,70.32 L345.65,70.46 L345.90,70.41 L346.15,70.27 L346.40,70.29 L346.65,70.22 L346.90,70.19 L347.15,70.16 L347.40,70.43 L347.65,70.47 L347.90,70.19 L348.15,70.30 L348.40,70.44 L348.65,70.26 L348.90,70.41 L349.15,70.42 L349.40,70.37 L349.65,70.32 L349.90,70.26 L350.15,70.47 L350.40,70.24 L350.65,70.28 L350.90,70.33 L351.15,70.26 L351.40,70.22 L351.65,70.50 L351.90,70.33 L352.15,70.26 L352.40,70.25 L352.65,70.27 L352.90,70.43 L353.15,70.16 L353.40,70.21 L353.65,70.40 L353.90,70.32 L354.15,70.11 L354.40,70.34 L354.65,70.21 L354.90,69.91 L355.15,69.77 L355.40,69.74 L355.65,69.12 L355.90,68.53 L356.15,67.23 L356.40,65.22 L356.65,63.96 L356.90,63.92 L357.15,64.89 L357.40,67.05 L357.65,68.45 L357.90,69.22 L358.15,69.61 L358.40,69.90 L358.65,70.20 L358.90,70.13 L359.15,70.07 L359.40,70.24 L359.65,70.34 L359.90,70.23 L360.15,70.33 L360.40,70.43 L360.65,70.32 L360.90,70.48 L361.15,70.24 L361.40,70.41 L361.65,70.32 L361.90,70.08 L362.15,70.09 L362.40,69.98 L362.65,69.90 L362.90,69.65 L363.15,69.22 L363.40,68.46 L363.65,67.63 L363.90,65.61 L364.15,64.39 L364.40,64.41 L364.65,65.10 L364.90,67.19 L365.15,68.32 L365.40,69.05 L365.65,69.60 L365.90,70.01 L366.15,70.24 L366.40,70.16 L366.65,70.15 L366.90,70.35 L367.15,70.44 L367.40,70.48 L367.65,70.43 L367.90,70.25 L368.15,70.49 L368.40,70.42 L368.65,70.41 L368.90,70.25 L369.15,70.15 L369.40,70.49 L369.65,70.46 L369.90,70.17 L370.15,70.16 L370.40,70.45 L370.65,70.38 L370.90,70.32 L371.15,70.39 L371.40,70.35 L371.65,70.33 L371.90,70.41 L372.15,70.48 L372.40,70.47 L372.65,70.44 L372.90,70.47 L373.15,70.28 L373.40,70.26 L373.65,70.41 L373.90,70.22 L374.15,70.24 L374.40,70.38 L374.65,70.33 L374.90,70.43 L375.15,70.17 L375.40,70.30 L375.65,70.48 L375.90,70.45 L376.15,70.26 L376.40,70.37 L376.65,70.25 L376.90,70.42 L377.15,70.22 L377.40,70.22 L377.65,70.47 L377.90,70.29 L378.15,70.43 L378.40,70.25 L378.65,70.22 L378.90,70.22 L379.15,70.42 L379.40,70.47 L379.65,70.27 L379.90,70.30 L380.15,70.45 L380.40,70.43 L380.65,70.30 L380.90,70.46 L381.15,70.28 L381.40,70.42 L381.65,70.41 L381.90,70.35 L382.15,70.31 L382.40,70.25 L382.65,70.49 L382.90,70.25 L383.15,70.42 L383.40,70.40 L383.65,70.28 L383.90,70.26 L384.15,70.28 L384.40,70.18 L384.65,70.43 L384.90,70.39 L385.15,70.27 L385.40,70.41 L385.65,70.44 L385.90,70.42 L386.15,70.23 L386.40,70.21 L386.65,70.25 L386.90,70.16 L387.15,70.22 L387.40,70.39 L387.65,70.39 L387.90,70.25 L388.15,70.48 L388.40,70.29 L388.65,70.47 L388.90,70.48 L389.15,70.32 L389.40,70.45 L389.65,70.17 L389.90,70.19 L390.15,70.33 L390.40,70.43 L390.65,70.45 L390.90,70.31 L391.15,70.31 L391.40,70.36 L391.65,70.23 L391.90,70.29 L392.15,70.20 L392.40,70.42 L392.65,70.43 L392.90,70.30 L393.15,70.25 L393.40,70.31 L393.65,70.13 L393.90,70.25 L394.15,70.17 L394.40,70.05 L394.65,69.89 L394.90,69.76 L395.15,69.77 L395.40,69.58 L395.65,69.19 L395.90,68.91 L396.15,68.66 L396.40,68.38 L396.65,67.84 L396.90,67.78 L397.15,67.90 L397.40,67.99 L397.65,66.32 L397.90,64.68 L398.15,64.95 L398.40,65.16 L398.65,67.14 L398.90,68.49 L399.15,69.32 L399.40,69.54 L399.65,69.81 L399.90,70.09 L400.15,70.31 L400.40,70.24 L400.65,70.37 L400.90,70.09 L401.15,70.42 L401.40,70.35 L401.65,70.19 L401.90,70.42 L402.15,70.44 L402.40,70.46 L402.65,70.43 L402.90,70.30 L403.15,70.20 L403.40,70.42 L403.65,70.41 L403.90,70.18 L404.15,70.27 L404.40,70.24 L404.65,70.23 L404.90,70.03 L405.15,69.53 L405.40,69.43 L405.65,68.70 L405.90,68.24 L406.15,68.19 L406.40,68.64 L406.65,69.40 L406.90,69.60 L407.15,69.94 L407.40,70.19 L407.65,70.21 L407.90,70.17 L408.15,70.20 L408.40,70.43 L408.65,70.42 L408.90,70.15 L409.15,70.46 L409.40,70.21 L409.65,70.38 L409.90,70.41 L410.15,70.41 L410.40,70.34 L410.65,70.15 L410.90,70.45 L411.15,70.20 L411.40,70.39 L411.65,70.44 L411.90,70.24 L412.15,70.38 L412.40,70.43 L412.65,70.35 L412.90,70.21 L413.15,70.20 L413.40,70.30 L413.65,70.50 L413.90,70.23 L414.15,70.29 L414.40,70.19 L414.65,70.17 L414.90,70.39 L415.15,70.20 L415.40,70.21 L415.65,70.41 L415.90,70.37 L416.15,70.37 L416.40,70.38 L416.65,70.37 L416.90,70.46 L417.15,70.42 L417.40,70.18 L417.65,70.36 L417.90,70.28 L418.15,70.19 L418.40,70.24 L418.65,70.41 L418.90,70.18 L419.15,70.22 L419.40,70.15 L419.65,70.25 L419.90,70.24 L420.15,70.22 L420.40,70.41 L420.65,70.27 L420.90,70.37 L421.15,70.21 L421.40,70.45 L421.65,70.31 L421.90,70.38 L422.15,70.21 L422.40,70.38 L422.65,70.20 L422.90,70.20 L423.15,70.19 L423.40,70.45 L423.65,70.17 L423.90,70.24 L424.15,70.26 L424.40,70.27 L424.65,70.48 L424.90,70.20 L425.15,70.31 L425.40,70.34 L425.65,70.38 L425.90,70.23 L426.15,70.23 L426.40,70.20 L426.65,70.43 L426.90,70.38 L427.15,70.41 L427.40,70.46 L427.60,70.50 Z" fill="#d8a233"/>
<path d="M228.90,82.30 L228.90,82.19 L229.15,82.29 L229.40,82.02 L229.65,82.22 L229.90,82.28 L230.15,82.28 L230.40,82.04 L230.65,82.23 L230.90,82.14 L231.15,82.16 L231.40,82.02 L231.65,81.97 L231.90,82.19 L232.15,82.08 L232.40,81.99 L232.65,82.14 L232.90,81.99 L233.15,82.04 L233.40,82.19 L233.65,81.99 L233.90,82.10 L234.15,82.26 L234.40,82.09 L234.65,82.01 L234.90,82.12 L235.15,82.13 L235.40,82.15 L235.65,81.99 L235.90,82.07 L236.15,82.23 L236.40,82.17 L236.65,82.17 L236.90,81.96 L237.15,82.06 L237.40,82.26 L237.65,81.98 L237.90,82.29 L238.15,82.09 L238.40,82.15 L238.65,82.05 L238.90,82.15 L239.15,82.27 L239.40,82.12 L239.65,82.01 L239.90,82.02 L240.15,82.18 L240.40,82.22 L240.65,82.04 L240.90,82.02 L241.15,82.22 L241.40,81.99 L241.65,81.95 L241.90,82.14 L242.15,82.16 L242.40,82.04 L242.65,81.95 L242.90,82.20 L243.15,82.15 L243.40,82.13 L243.65,81.96 L243.90,82.11 L244.15,81.94 L244.40,81.89 L244.65,81.73 L244.90,81.77 L245.15,81.29 L245.40,80.99 L245.65,80.74 L245.90,80.10 L246.15,79.51 L246.40,78.12 L246.65,78.11 L246.90,78.03 L247.15,78.00 L247.40,78.17 L247.65,76.74 L247.90,75.73 L248.15,75.79 L248.40,75.62 L248.65,75.49 L248.90,76.06 L249.15,73.97 L249.40,74.12 L249.65,73.97 L249.90,74.10 L250.15,74.64 L250.40,75.08 L250.65,75.02 L250.90,75.15 L251.15,75.09 L251.40,76.08 L251.65,77.20 L251.90,77.15 L252.15,77.12 L252.40,77.14 L252.65,78.24 L252.90,79.30 L253.15,79.18 L253.40,79.05 L253.65,79.04 L253.90,79.22 L254.15,79.86 L254.40,80.41 L254.65,79.94 L254.90,79.09 L255.15,78.98 L255.40,79.23 L255.65,79.10 L255.90,79.05 L256.15,79.12 L256.40,79.88 L256.65,79.36 L256.90,78.70 L257.15,78.51 L257.40,78.48 L257.65,78.78 L257.90,78.47 L258.15,78.74 L258.40,79.74 L258.65,79.97 L258.90,79.02 L259.15,79.06 L259.40,79.25 L259.65,79.14 L259.90,79.08 L260.15,79.03 L260.40,77.43 L260.65,77.03 L260.90,77.21 L261.15,77.23 L261.40,77.49 L261.65,79.27 L261.90,79.58 L262.15,79.69 L262.40,79.74 L262.65,79.72 L262.90,79.77 L263.15,79.80 L263.40,80.38 L263.65,80.78 L263.90,81.24 L264.15,81.39 L264.40,81.60 L264.65,81.55 L264.90,81.83 L265.15,81.74 L265.40,81.97 L265.65,82.11 L265.90,82.00 L266.15,82.18 L266.40,82.19 L266.65,82.24 L266.90,82.03 L267.15,81.94 L267.40,82.14 L267.65,82.16 L267.90,82.13 L268.15,82.15 L268.40,82.01 L268.65,82.10 L268.90,82.16 L269.15,81.87 L269.40,81.92 L269.65,82.04 L269.90,81.64 L270.15,81.54 L270.40,81.45 L270.65,81.06 L270.90,80.53 L271.15,80.11 L271.40,79.26 L271.65,79.20 L271.90,79.11 L272.15,79.07 L272.40,79.04 L272.65,79.27 L272.90,80.32 L273.15,79.45 L273.40,78.14 L273.65,78.02 L273.90,78.09 L274.15,78.06 L274.40,78.18 L274.65,78.37 L274.90,79.56 L275.15,80.11 L275.40,79.34 L275.65,79.26 L275.90,78.99 L276.15,79.02 L276.40,79.29 L276.65,79.49 L276.90,80.22 L277.15,80.78 L277.40,81.22 L277.65,81.31 L277.90,81.70 L278.15,81.78 L278.40,81.73 L278.65,81.71 L278.90,81.57 L279.15,81.33 L279.40,80.88 L279.65,80.13 L279.90,79.06 L280.15,78.21 L280.40,78.17 L280.65,78.16 L280.90,78.17 L281.15,78.18 L281.40,79.60 L281.65,80.55 L281.90,81.09 L282.15,80.95 L282.40,80.82 L282.65,80.14 L282.90,79.79 L283.15,79.73 L283.40,79.78 L283.65,79.52 L283.90,79.75 L284.15,79.78 L284.40,80.47 L284.65,80.86 L284.90,80.33 L285.15,79.74 L285.40,78.98 L285.65,78.97 L285.90,79.11 L286.15,78.98 L286.40,79.27 L286.65,79.05 L286.90,79.98 L287.15,80.62 L287.40,80.84 L287.65,80.46 L287.90,80.16 L288.15,80.27 L288.40,79.99 L288.65,80.04 L288.90,80.09 L289.15,80.01 L289.40,80.84 L289.65,80.24 L289.90,79.36 L290.15,79.29 L290.40,79.05 L290.65,79.08 L290.90,79.26 L291.15,79.54 L291.40,80.33 L291.65,80.59 L291.90,80.56 L292.15,80.46 L292.40,80.67 L292.65,80.50 L292.90,81.06 L293.15,81.36 L293.40,81.61 L293.65,81.77 L293.90,81.63 L294.15,81.71 L294.40,81.87 L294.65,82.10 L294.90,82.14 L295.15,82.17 L295.40,82.12 L295.65,82.00 L295.90,82.25 L296.15,82.09 L296.40,82.04 L296.65,82.28 L296.90,82.14 L297.15,82.02 L297.40,82.09 L297.65,82.14 L297.90,81.99 L298.15,82.09 L298.40,82.18 L298.65,82.16 L298.90,81.97 L299.15,82.00 L299.40,81.98 L299.65,82.10 L299.90,82.25 L300.15,82.24 L300.40,82.16 L300.65,82.06 L300.90,82.30 L301.15,82.02 L301.40,82.02 L301.65,82.11 L301.90,82.29 L302.15,82.01 L302.40,82.14 L302.65,82.04 L302.90,82.07 L303.15,82.00 L303.40,82.10 L303.65,81.88 L303.90,81.85 L304.15,81.80 L304.40,81.84 L304.65,81.85 L304.90,81.69 L305.15,81.52 L305.40,81.02 L305.65,81.02 L305.90,81.02 L306.15,81.01 L306.40,80.95 L306.65,81.16 L306.90,81.55 L307.15,81.59 L307.40,81.89 L307.65,81.86 L307.90,82.09 L308.15,81.89 L308.40,82.05 L308.65,82.15 L308.90,81.94 L309.15,82.24 L309.40,81.95 L309.65,82.02 L309.90,82.24 L310.15,82.03 L310.40,82.09 L310.65,81.98 L310.90,82.09 L311.15,82.15 L311.40,81.97 L311.65,82.27 L311.90,82.03 L312.15,82.26 L312.40,82.20 L312.65,82.26 L312.90,82.00 L313.15,82.15 L313.40,82.05 L313.65,82.21 L313.90,82.04 L314.15,82.07 L314.40,82.27 L314.65,82.13 L314.90,82.05 L315.15,82.22 L315.40,82.07 L315.65,82.20 L315.90,82.17 L316.15,81.98 L316.40,81.97 L316.65,81.95 L316.90,82.15 L317.15,82.10 L317.40,82.02 L317.65,82.03 L317.90,82.14 L318.15,82.00 L318.40,82.16 L318.65,81.97 L318.90,82.13 L319.15,82.26 L319.40,82.04 L319.65,82.25 L319.90,82.06 L320.15,82.28 L320.40,81.95 L320.65,82.11 L320.90,82.04 L321.15,82.25 L321.40,82.08 L321.65,82.17 L321.90,82.21 L322.15,82.01 L322.40,82.29 L322.65,82.13 L322.90,82.27 L323.15,82.00 L323.40,81.99 L323.65,82.29 L323.90,82.14 L324.15,82.14 L324.40,82.05 L324.65,82.04 L324.90,82.18 L325.15,81.97 L325.40,82.24 L325.65,82.25 L325.90,82.01 L326.15,82.26 L326.40,82.23 L326.65,82.12 L326.90,82.18 L327.15,82.24 L327.40,81.97 L327.65,82.13 L327.90,82.02 L328.15,82.21 L328.40,81.98 L328.65,82.22 L328.90,81.98 L329.15,82.09 L329.40,81.96 L329.65,82.03 L329.90,82.08 L330.15,82.11 L330.40,82.00 L330.65,82.14 L330.90,82.27 L331.15,81.98 L331.40,82.02 L331.65,82.06 L331.90,82.04 L332.15,82.22 L332.40,82.14 L332.65,82.01 L332.90,81.96 L333.15,81.98 L333.40,82.24 L333.65,82.06 L333.90,82.11 L334.15,82.16 L334.40,82.24 L334.65,82.25 L334.90,82.14 L335.15,82.13 L335.40,82.21 L335.65,82.17 L335.90,82.11 L336.15,82.03 L336.40,82.09 L336.65,82.24 L336.90,81.99 L337.15,82.17 L337.40,81.96 L337.65,81.96 L337.90,82.25 L338.15,82.10 L338.40,81.96 L338.65,82.17 L338.90,82.11 L339.15,82.19 L339.40,82.29 L339.65,82.23 L339.90,82.26 L340.15,82.20 L340.40,82.08 L340.65,82.10 L340.90,81.97 L341.15,82.06 L341.40,82.17 L341.65,81.97 L341.90,82.08 L342.15,82.11 L342.40,82.00 L342.65,82.07 L342.90,82.17 L343.15,82.09 L343.40,82.19 L343.65,81.96 L343.90,82.21 L344.15,81.96 L344.40,82.28 L344.65,82.30 L344.90,82.11 L345.15,82.23 L345.40,82.12 L345.65,82.26 L345.90,82.01 L346.15,82.07 L346.40,82.06 L346.65,81.98 L346.90,81.95 L347.15,82.06 L347.40,82.05 L347.65,82.30 L347.90,82.28 L348.15,82.15 L348.40,81.96 L348.65,82.19 L348.90,82.10 L349.15,82.29 L349.40,82.14 L349.65,81.97 L349.90,82.07 L350.15,81.98 L350.40,82.25 L350.65,82.17 L350.90,82.15 L351.15,81.88 L351.40,82.08 L351.65,81.72 L351.90,81.85 L352.15,81.48 L352.40,81.40 L352.65,81.17 L352.90,80.52 L353.15,80.11 L353.40,79.16 L353.65,79.28 L353.90,79.01 L354.15,78.96 L354.40,78.50 L354.65,76.33 L354.90,76.21 L355.15,76.25 L355.40,76.17 L355.65,76.07 L355.90,73.97 L356.15,73.95 L356.40,73.95 L356.65,74.08 L356.90,74.07 L357.15,76.79 L357.40,76.79 L357.65,76.11 L357.90,76.17 L358.15,75.98 L358.40,76.21 L358.65,77.42 L358.90,75.58 L359.15,73.25 L359.40,73.09 L359.65,73.02 L359.90,73.24 L360.15,73.56 L360.40,76.46 L360.65,76.10 L360.90,76.16 L361.15,76.11 L361.40,76.29 L361.65,77.17 L361.90,74.65 L362.15,74.72 L362.40,74.54 L362.65,74.72 L362.90,74.51 L363.15,76.98 L363.40,76.77 L363.65,76.63 L363.90,76.66 L364.15,76.68 L364.40,74.23 L364.65,74.42 L364.90,74.27 L365.15,74.21 L365.40,74.34 L365.65,76.81 L365.90,77.98 L366.15,78.09 L366.40,78.24 L366.65,78.28 L366.90,78.91 L367.15,79.81 L367.40,80.27 L367.65,80.07 L367.90,80.15 L368.15,80.24 L368.40,80.67 L368.65,80.90 L368.90,81.42 L369.15,81.65 L369.40,81.75 L369.65,81.86 L369.90,81.74 L370.15,81.87 L370.40,82.02 L370.65,82.14 L370.90,82.21 L371.15,82.20 L371.40,81.96 L371.65,82.04 L371.90,82.22 L372.15,82.06 L372.40,82.27 L372.65,82.11 L372.90,82.18 L373.15,82.26 L373.40,82.04 L373.65,82.05 L373.90,82.12 L374.15,82.24 L374.40,82.07 L374.65,82.15 L374.90,82.07 L375.15,82.27 L375.40,81.98 L375.65,82.30 L375.90,82.22 L376.15,82.16 L376.40,82.23 L376.65,82.27 L376.90,82.06 L377.15,81.95 L377.40,82.18 L377.65,82.21 L377.90,82.07 L378.15,82.22 L378.40,82.16 L378.65,82.06 L378.90,82.15 L379.15,82.25 L379.40,82.28 L379.65,82.11 L379.90,81.95 L380.15,81.98 L380.40,82.27 L380.65,82.12 L380.90,82.13 L381.15,82.23 L381.40,82.07 L381.65,82.13 L381.90,82.02 L382.15,82.20 L382.40,81.97 L382.65,82.01 L382.90,82.13 L383.15,82.25 L383.40,82.13 L383.65,82.26 L383.90,82.06 L384.15,82.06 L384.40,82.10 L384.65,81.96 L384.90,82.28 L385.15,82.05 L385.40,82.02 L385.65,82.26 L385.90,82.19 L386.15,82.28 L386.40,82.10 L386.65,82.05 L386.90,82.18 L387.15,82.06 L387.40,82.17 L387.65,82.05 L387.90,82.20 L388.15,81.96 L388.40,82.14 L388.65,82.29 L388.90,82.26 L389.15,82.04 L389.40,81.99 L389.65,82.06 L389.90,82.23 L390.15,81.97 L390.40,82.02 L390.65,82.22 L390.90,82.11 L391.15,81.99 L391.40,82.19 L391.65,82.14 L391.90,81.99 L392.15,81.74 L392.40,81.60 L392.65,81.72 L392.90,81.35 L393.15,81.18 L393.40,80.86 L393.65,80.56 L393.90,79.96 L394.15,80.07 L394.40,79.97 L394.65,80.10 L394.90,80.23 L395.15,79.39 L395.40,78.27 L395.65,78.18 L395.90,78.17 L396.15,78.12 L396.40,78.09 L396.65,78.18 L396.90,76.08 L397.15,75.12 L397.40,75.12 L397.65,75.15 L397.90,75.07 L398.15,72.91 L398.40,72.31 L398.65,72.40 L398.90,72.23 L399.15,72.25 L399.40,74.77 L399.65,75.12 L399.90,75.21 L400.15,74.98 L400.40,75.12 L400.65,76.53 L400.90,77.82 L401.15,77.16 L401.40,77.05 L401.65,77.01 L401.90,77.13 L402.15,78.02 L402.40,77.23 L402.65,77.14 L402.90,77.17 L403.15,77.19 L403.40,77.80 L403.65,78.23 L403.90,78.04 L404.15,78.23 L404.40,78.22 L404.65,78.03 L404.90,77.70 L405.15,77.06 L405.40,77.08 L405.65,77.06 L405.90,76.65 L406.15,74.78 L406.40,74.67 L406.65,74.79 L406.90,74.46 L407.15,74.98 L407.40,77.36 L407.65,77.96 L407.90,78.02 L408.15,78.22 L408.40,78.68 L408.65,79.95 L408.90,80.50 L409.15,80.54 L409.40,80.63 L409.65,80.67 L409.90,80.83 L410.15,81.11 L410.40,81.29 L410.65,81.42 L410.90,81.58 L411.15,81.69 L411.40,81.92 L411.65,81.98 L411.90,82.06 L412.15,81.86 L412.40,82.17 L412.65,82.19 L412.90,82.16 L413.15,81.95 L413.40,81.98 L413.65,82.17 L413.90,81.99 L414.15,81.98 L414.40,82.14 L414.65,82.23 L414.90,82.03 L415.15,82.17 L415.40,82.26 L415.65,81.98 L415.90,82.15 L416.15,82.16 L416.40,82.09 L416.65,82.21 L416.90,82.29 L417.15,82.16 L417.40,82.17 L417.65,82.30 L417.90,82.17 L418.15,82.03 L418.40,82.18 L418.65,82.06 L418.90,82.08 L419.15,82.23 L419.40,82.29 L419.65,82.06 L419.90,82.09 L420.15,82.20 L420.40,82.23 L420.65,82.00 L420.90,81.98 L421.15,82.22 L421.40,82.09 L421.65,82.10 L421.90,82.19 L422.15,82.29 L422.40,82.19 L422.65,82.07 L422.90,82.09 L423.15,82.12 L423.40,82.26 L423.65,82.23 L423.90,82.19 L424.15,82.15 L424.40,82.17 L424.65,81.98 L424.90,82.26 L425.15,81.95 L425.40,82.22 L425.65,82.00 L425.90,82.21 L426.15,82.09 L426.40,82.17 L426.65,82.29 L426.90,82.02 L427.15,82.02 L427.40,82.21 L427.60,82.30 Z" fill="#24498a"/>
<path d="M228.90,93.90 L228.90,93.63 L229.15,93.73 L229.40,93.55 L229.65,93.88 L229.90,93.77 L230.15,93.82 L230.40,93.68 L230.65,93.63 L230.90,93.61 L231.15,93.71 L231.40,93.76 L231.65,93.62 L231.90,93.86 L232.15,93.81 L232.40,93.64 L232.65,93.75 L232.90,93.55 L233.15,93.87 L233.40,93.74 L233.65,93.83 L233.90,93.90 L234.15,93.87 L234.40,93.87 L234.65,93.77 L234.90,93.75 L235.15,93.72 L235.40,93.80 L235.65,93.65 L235.90,93.72 L236.15,93.56 L236.40,93.84 L236.65,93.72 L236.90,93.73 L237.15,93.77 L237.40,93.60 L237.65,93.83 L237.90,93.59 L238.15,93.77 L238.40,93.78 L238.65,93.68 L238.90,93.70 L239.15,93.80 L239.40,93.87 L239.65,93.57 L239.90,93.77 L240.15,93.86 L240.40,93.67 L240.65,93.71 L240.90,93.79 L241.15,93.79 L241.40,93.60 L241.65,93.78 L241.90,93.75 L242.15,93.57 L242.40,93.77 L242.65,93.76 L242.90,93.84 L243.15,93.67 L243.40,93.66 L243.65,93.74 L243.90,93.75 L244.15,93.81 L244.40,93.61 L244.65,93.72 L244.90,93.58 L245.15,93.73 L245.40,93.59 L245.65,93.81 L245.90,93.71 L246.15,93.40 L246.40,93.42 L246.65,93.32 L246.90,93.22 L247.15,92.99 L247.40,92.75 L247.65,92.26 L247.90,91.37 L248.15,91.16 L248.40,91.31 L248.65,91.17 L248.90,91.35 L249.15,91.55 L249.40,91.53 L249.65,90.09 L249.90,89.79 L250.15,89.71 L250.40,89.85 L250.65,89.73 L250.90,90.92 L251.15,91.96 L251.40,91.02 L251.65,90.66 L251.90,90.71 L252.15,90.68 L252.40,90.63 L252.65,91.13 L252.90,92.06 L253.15,92.17 L253.40,91.30 L253.65,91.20 L253.90,91.14 L254.15,91.27 L254.40,91.24 L254.65,91.42 L254.90,92.15 L255.15,91.78 L255.40,91.09 L255.65,90.69 L255.90,90.89 L256.15,90.57 L256.40,90.56 L256.65,91.08 L256.90,92.05 L257.15,92.02 L257.40,91.53 L257.65,91.11 L257.90,91.22 L258.15,91.39 L258.40,91.09 L258.65,91.61 L258.90,92.15 L259.15,91.76 L259.40,90.95 L259.65,90.60 L259.90,90.83 L260.15,90.59 L260.40,90.78 L260.65,91.32 L260.90,92.02 L261.15,92.30 L261.40,91.57 L261.65,91.18 L261.90,91.36 L262.15,91.34 L262.40,91.30 L262.65,91.66 L262.90,92.11 L263.15,92.32 L263.40,91.75 L263.65,91.55 L263.90,91.75 L264.15,91.62 L264.40,91.80 L264.65,91.86 L264.90,92.44 L265.15,92.06 L265.40,91.51 L265.65,91.37 L265.90,91.08 L266.15,91.21 L266.40,91.19 L266.65,91.46 L266.90,92.39 L267.15,92.39 L267.40,91.89 L267.65,91.62 L267.90,91.74 L268.15,91.83 L268.40,91.57 L268.65,92.09 L268.90,92.47 L269.15,92.35 L269.40,91.97 L269.65,91.66 L269.90,91.76 L270.15,91.82 L270.40,91.82 L270.65,91.86 L270.90,92.60 L271.15,92.83 L271.40,92.43 L271.65,92.00 L271.90,90.87 L272.15,90.64 L272.40,90.59 L272.65,90.78 L272.90,90.83 L273.15,91.21 L273.40,91.89 L273.65,92.09 L273.90,91.45 L274.15,91.22 L274.40,91.35 L274.65,91.08 L274.90,91.23 L275.15,91.58 L275.40,92.16 L275.65,92.83 L275.90,92.26 L276.15,92.28 L276.40,92.12 L276.65,92.37 L276.90,92.30 L277.15,92.39 L277.40,92.85 L277.65,93.17 L277.90,93.29 L278.15,93.54 L278.40,93.54 L278.65,93.60 L278.90,93.18 L279.15,93.17 L279.40,92.68 L279.65,92.35 L279.90,91.71 L280.15,91.18 L280.40,91.36 L280.65,91.13 L280.90,91.30 L281.15,91.11 L281.40,91.92 L281.65,92.40 L281.90,91.77 L282.15,91.75 L282.40,91.66 L282.65,91.57 L282.90,91.83 L283.15,92.15 L283.40,92.58 L283.65,92.92 L283.90,92.77 L284.15,92.24 L284.40,91.29 L284.65,91.26 L284.90,91.35 L285.15,91.34 L285.40,91.20 L285.65,91.69 L285.90,92.27 L286.15,92.71 L286.40,92.88 L286.65,92.46 L286.90,91.76 L287.15,91.89 L287.40,91.57 L287.65,91.83 L287.90,91.89 L288.15,91.92 L288.40,92.53 L288.65,92.82 L288.90,92.53 L289.15,91.73 L289.40,91.02 L289.65,90.65 L289.90,90.82 L290.15,90.70 L290.40,90.67 L290.65,91.20 L290.90,91.97 L291.15,92.67 L291.40,92.29 L291.65,92.16 L291.90,92.35 L292.15,92.21 L292.40,92.14 L292.65,92.58 L292.90,92.73 L293.15,92.99 L293.40,93.47 L293.65,93.53 L293.90,93.68 L294.15,93.68 L294.40,93.78 L294.65,93.67 L294.90,93.77 L295.15,93.77 L295.40,93.72 L295.65,93.76 L295.90,93.61 L296.15,93.64 L296.40,93.86 L296.65,93.82 L296.90,93.90 L297.15,93.78 L297.40,93.86 L297.65,93.66 L297.90,93.63 L298.15,93.55 L298.40,93.83 L298.65,93.89 L298.90,93.55 L299.15,93.62 L299.40,93.34 L299.65,93.38 L299.90,93.16 L300.15,92.84 L300.40,91.86 L300.65,90.90 L300.90,89.75 L301.15,89.75 L301.40,89.63 L301.65,89.61 L301.90,90.62 L302.15,91.95 L302.40,92.61 L302.65,92.89 L302.90,93.34 L303.15,93.41 L303.40,93.55 L303.65,93.64 L303.90,93.64 L304.15,93.81 L304.40,93.70 L304.65,93.60 L304.90,93.87 L305.15,93.77 L305.40,93.59 L305.65,93.56 L305.90,93.90 L306.15,93.68 L306.40,93.68 L306.65,93.60 L306.90,93.74 L307.15,93.85 L307.40,93.79 L307.65,93.65 L307.90,93.65 L308.15,93.83 L308.40,93.68 L308.65,93.67 L308.90,93.67 L309.15,93.89 L309.40,93.75 L309.65,93.79 L309.90,93.69 L310.15,93.78 L310.40,93.86 L310.65,93.67 L310.90,93.80 L311.15,93.62 L311.40,93.79 L311.65,93.71 L311.90,93.62 L312.15,93.86 L312.40,93.64 L312.65,93.88 L312.90,93.57 L313.15,93.89 L313.40,93.65 L313.65,93.77 L313.90,93.84 L314.15,93.76 L314.40,93.72 L314.65,93.75 L314.90,93.86 L315.15,93.72 L315.40,93.79 L315.65,93.56 L315.90,93.77 L316.15,93.75 L316.40,93.82 L316.65,93.56 L316.90,93.79 L317.15,93.67 L317.40,93.61 L317.65,93.76 L317.90,93.64 L318.15,93.80 L318.40,93.86 L318.65,93.89 L318.90,93.74 L319.15,93.59 L319.40,93.83 L319.65,93.75 L319.90,93.63 L320.15,93.80 L320.40,93.85 L320.65,93.72 L320.90,93.75 L321.15,93.57 L321.40,93.59 L321.65,93.82 L321.90,93.70 L322.15,93.75 L322.40,93.89 L322.65,93.74 L322.90,93.58 L323.15,93.79 L323.40,93.69 L323.65,93.65 L323.90,93.88 L324.15,93.58 L324.40,93.86 L324.65,93.79 L324.90,93.65 L325.15,93.89 L325.40,93.77 L325.65,93.86 L325.90,93.73 L326.15,93.89 L326.40,93.85 L326.65,93.82 L326.90,93.87 L327.15,93.87 L327.40,93.83 L327.65,93.72 L327.90,93.85 L328.15,93.61 L328.40,93.75 L328.65,93.81 L328.90,93.82 L329.15,93.61 L329.40,93.88 L329.65,93.64 L329.90,93.87 L330.15,93.57 L330.40,93.76 L330.65,93.69 L330.90,93.60 L331.15,93.86 L331.40,93.88 L331.65,93.66 L331.90,93.69 L332.15,93.65 L332.40,93.80 L332.65,93.73 L332.90,93.83 L333.15,93.75 L333.40,93.80 L333.65,93.70 L333.90,93.80 L334.15,93.80 L334.40,93.68 L334.65,93.87 L334.90,93.62 L335.15,93.73 L335.40,93.82 L335.65,93.86 L335.90,93.72 L336.15,93.72 L336.40,93.65 L336.65,93.77 L336.90,93.76 L337.15,93.59 L337.40,93.80 L337.65,93.56 L337.90,93.59 L338.15,93.55 L338.40,93.57 L338.65,93.81 L338.90,93.61 L339.15,93.69 L339.40,93.83 L339.65,93.55 L339.90,93.67 L340.15,93.62 L340.40,93.70 L340.65,93.87 L340.90,93.60 L341.15,93.84 L341.40,93.81 L341.65,93.68 L341.90,93.83 L342.15,93.74 L342.40,93.65 L342.65,93.87 L342.90,93.67 L343.15,93.86 L343.40,93.73 L343.65,93.67 L343.90,93.66 L344.15,93.88 L344.40,93.83 L344.65,93.56 L344.90,93.76 L345.15,93.75 L345.40,93.77 L345.65,93.66 L345.90,93.64 L346.15,93.67 L346.40,93.76 L346.65,93.70 L346.90,93.72 L347.15,93.83 L347.40,93.57 L347.65,93.56 L347.90,93.63 L348.15,93.55 L348.40,93.74 L348.65,93.61 L348.90,93.82 L349.15,93.64 L349.40,93.65 L349.65,93.57 L349.90,93.61 L350.15,93.59 L350.40,93.80 L350.65,93.62 L350.90,93.72 L351.15,93.77 L351.40,93.75 L351.65,93.58 L351.90,93.55 L352.15,93.53 L352.40,93.55 L352.65,93.68 L352.90,93.61 L353.15,93.35 L353.40,93.32 L353.65,93.04 L353.90,92.78 L354.15,92.27 L354.40,91.34 L354.65,91.32 L354.90,91.10 L355.15,91.28 L355.40,91.01 L355.65,89.70 L355.90,89.31 L356.15,89.26 L356.40,89.40 L356.65,89.25 L356.90,90.65 L357.15,91.92 L357.40,90.83 L357.65,90.77 L357.90,90.90 L358.15,90.56 L358.40,90.82 L358.65,91.24 L358.90,92.13 L359.15,91.65 L359.40,90.42 L359.65,90.20 L359.90,90.22 L360.15,90.31 L360.40,90.30 L360.65,90.57 L360.90,91.72 L361.15,91.66 L361.40,90.82 L361.65,90.86 L361.90,90.60 L362.15,90.89 L362.40,90.65 L362.65,91.05 L362.90,91.90 L363.15,91.81 L363.40,90.85 L363.65,90.85 L363.90,90.71 L364.15,90.81 L364.40,90.76 L364.65,91.27 L364.90,91.89 L365.15,92.12 L365.40,91.32 L365.65,91.18 L365.90,91.19 L366.15,91.08 L366.40,91.12 L366.65,91.56 L366.90,92.32 L367.15,92.08 L367.40,92.27 L367.65,92.36 L367.90,92.28 L368.15,92.37 L368.40,92.70 L368.65,93.07 L368.90,93.26 L369.15,93.29 L369.40,93.43 L369.65,93.61 L369.90,93.65 L370.15,93.57 L370.40,93.75 L370.65,93.83 L370.90,93.66 L371.15,93.60 L371.40,93.80 L371.65,93.65 L371.90,93.58 L372.15,93.85 L372.40,93.85 L372.65,93.73 L372.90,93.78 L373.15,93.57 L373.40,93.55 L373.65,93.74 L373.90,93.62 L374.15,93.68 L374.40,93.84 L374.65,93.56 L374.90,93.84 L375.15,93.87 L375.40,93.74 L375.65,93.89 L375.90,93.73 L376.15,93.76 L376.40,93.57 L376.65,93.76 L376.90,93.60 L377.15,93.63 L377.40,93.69 L377.65,93.82 L377.90,93.79 L378.15,93.73 L378.40,93.76 L378.65,93.67 L378.90,93.72 L379.15,93.79 L379.40,93.69 L379.65,93.55 L379.90,93.83 L380.15,93.78 L380.40,93.90 L380.65,93.87 L380.90,93.88 L381.15,93.75 L381.40,93.61 L381.65,93.66 L381.90,93.56 L382.15,93.61 L382.40,93.69 L382.65,93.70 L382.90,93.90 L383.15,93.77 L383.40,93.81 L383.65,93.68 L383.90,93.88 L384.15,93.71 L384.40,93.77 L384.65,93.73 L384.90,93.76 L385.15,93.86 L385.40,93.64 L385.65,93.62 L385.90,93.69 L386.15,93.86 L386.40,93.69 L386.65,93.60 L386.90,93.55 L387.15,93.63 L387.40,93.88 L387.65,93.59 L387.90,93.67 L388.15,93.80 L388.40,93.58 L388.65,93.61 L388.90,93.59 L389.15,93.81 L389.40,93.70 L389.65,93.77 L389.90,93.80 L390.15,93.63 L390.40,93.68 L390.65,93.78 L390.90,93.71 L391.15,93.58 L391.40,93.70 L391.65,93.58 L391.90,93.70 L392.15,93.54 L392.40,93.88 L392.65,93.72 L392.90,93.68 L393.15,93.61 L393.40,93.51 L393.65,93.61 L393.90,93.62 L394.15,93.52 L394.40,93.48 L394.65,93.31 L394.90,93.06 L395.15,93.15 L395.40,92.71 L395.65,92.01 L395.90,91.57 L396.15,91.12 L396.40,91.39 L396.65,91.17 L396.90,91.12 L397.15,91.68 L397.40,90.65 L397.65,89.32 L397.90,89.15 L398.15,89.21 L398.40,89.19 L398.65,89.70 L398.90,90.93 L399.15,90.57 L399.40,90.63 L399.65,90.57 L399.90,90.81 L400.15,91.15 L400.40,91.00 L400.65,90.78 L400.90,90.62 L401.15,90.84 L401.40,90.70 L401.65,91.06 L401.90,91.82 L402.15,92.31 L402.40,91.50 L402.65,91.23 L402.90,91.07 L403.15,91.34 L403.40,91.11 L403.65,91.62 L403.90,92.24 L404.15,91.68 L404.40,91.11 L404.65,90.78 L404.90,90.85 L405.15,90.85 L405.40,90.79 L405.65,91.09 L405.90,91.27 L406.15,90.36 L406.40,90.12 L406.65,90.22 L406.90,90.35 L407.15,90.43 L407.40,91.59 L407.65,91.82 L407.90,91.57 L408.15,91.62 L408.40,91.82 L408.65,92.19 L408.90,92.42 L409.15,92.61 L409.40,92.87 L409.65,92.63 L409.90,92.63 L410.15,92.94 L410.40,93.11 L410.65,93.21 L410.90,93.55 L411.15,93.45 L411.40,93.47 L411.65,93.71 L411.90,93.61 L412.15,93.62 L412.40,93.58 L412.65,93.68 L412.90,93.79 L413.15,93.80 L413.40,93.70 L413.65,93.85 L413.90,93.60 L414.15,93.59 L414.40,93.81 L414.65,93.66 L414.90,93.66 L415.15,93.86 L415.40,93.63 L415.65,93.63 L415.90,93.79 L416.15,93.87 L416.40,93.80 L416.65,93.63 L416.90,93.74 L417.15,93.61 L417.40,93.84 L417.65,93.86 L417.90,93.78 L418.15,93.59 L418.40,93.84 L418.65,93.87 L418.90,93.64 L419.15,93.87 L419.40,93.67 L419.65,93.87 L419.90,93.81 L420.15,93.67 L420.40,93.59 L420.65,93.76 L420.90,93.74 L421.15,93.89 L421.40,93.78 L421.65,93.82 L421.90,93.62 L422.15,93.65 L422.40,93.63 L422.65,93.71 L422.90,93.66 L423.15,93.86 L423.40,93.77 L423.65,93.80 L423.90,93.80 L424.15,93.64 L424.40,93.83 L424.65,93.79 L424.90,93.80 L425.15,93.60 L425.40,93.68 L425.65,93.73 L425.90,93.77 L426.15,93.58 L426.40,93.57 L426.65,93.74 L426.90,93.70 L427.15,93.60 L427.40,93.81 L427.60,93.90 Z" fill="#4e2468"/></g>

<!-- track baselines -->
<g stroke="#2e2e2e" stroke-width="1.55">
<line x1="18.5" y1="58.5" x2="204.3" y2="58.5"/>
<line x1="18.5" y1="70.3" x2="204.3" y2="70.3"/>
<line x1="18.5" y1="81.8" x2="204.3" y2="81.8"/>
<line x1="18.5" y1="93.8" x2="204.3" y2="93.8"/>
<line x1="228.9" y1="58.8" x2="427.6" y2="58.8"/>
<line x1="228.9" y1="70.5" x2="427.6" y2="70.5"/>
<line x1="228.9" y1="82.3" x2="427.6" y2="82.3"/>
<line x1="228.9" y1="93.9" x2="427.6" y2="93.9"/>
</g>

<!-- ============ PANEL B ============ -->
<text x="7.8" y="132.5" font-size="11.4" font-weight="bold" fill="#000" textLength="6.4" lengthAdjust="spacingAndGlyphs">B</text>
<g font-size="8.5" fill="#222" text-anchor="middle">
<text x="83.3" y="143.8" textLength="14.5" lengthAdjust="spacingAndGlyphs">SEs</text>
<text x="149.6" y="142.9" textLength="14" lengthAdjust="spacingAndGlyphs">TEs</text>
</g>
<g font-size="8" fill="#333" text-anchor="end">
<text x="30.6" y="152.9">0.5</text>
<text x="30.6" y="170.3">0.4</text>
<text x="30.6" y="187.7">0.3</text>
<text x="30.6" y="205.1">0.2</text>
<text x="30.6" y="222.5">0.1</text>
<text x="30.6" y="239.9">0</text>
</g>
<text transform="translate(15.8,195) rotate(-90)" font-size="9.2" fill="#333" text-anchor="middle">rpm/bp</text>
<g font-size="8" fill="#333" text-anchor="middle">
<text x="60.4" y="252.2">start</text>
<text x="106.8" y="252.2">end</text>
<text x="142.4" y="252.2">start</text>
<text x="160.5" y="252.2">end</text>
</g>

<!-- SEs curves -->
<g id="securves"><polyline points="37.50,234.90 38.25,234.89 39.00,235.50 39.90,234.95 40.80,234.30 41.70,234.44 42.60,234.90 43.50,234.72 44.40,234.30 45.30,235.05 46.20,235.50 47.10,234.08 48.00,233.70 48.90,232.52 49.80,232.50 50.40,232.60 51.00,231.90 51.60,232.21 52.20,233.10 53.10,232.78 54.00,233.10 54.95,233.99 55.90,233.70 56.80,233.46 57.70,233.30 58.60,233.90 59.50,233.70 60.10,233.07 60.70,232.50 61.00,230.17 61.30,227.50 61.60,224.68 61.90,222.70 62.20,220.46 62.50,217.90 62.85,215.17 63.20,209.20 63.90,203.05 64.60,196.70 65.15,194.70 65.20,197.50 65.70,194.70 66.20,182.50 66.70,186.40 67.20,183.98 67.70,185.40 68.25,192.19 68.80,196.70 69.30,193.00 69.80,188.50 70.30,190.23 70.80,193.70 71.35,194.19 71.90,198.80 72.40,194.71 72.90,187.40 73.75,182.13 74.60,177.10 75.10,184.76 75.60,190.50 76.10,196.87 76.60,199.90 77.35,205.49 78.10,209.20 78.70,213.65 79.30,214.40 80.05,209.79 80.80,206.10 81.50,205.32 82.20,201.90 83.05,202.71 83.90,204.00 84.40,203.32 84.90,198.80 85.45,192.42 86.00,182.70 86.30,179.63 86.60,180.10 87.00,181.80 87.40,186.70 87.70,188.95 88.00,193.70 88.55,197.25 89.10,196.70 89.80,195.92 90.50,195.70 91.35,197.31 92.20,197.80 92.90,193.27 93.60,190.50 94.25,188.48 94.90,186.40 95.60,196.00 96.30,199.60 96.80,197.00 97.05,196.89 97.80,195.50 98.60,194.82 98.60,199.50 99.40,193.40 99.90,199.97 100.40,201.70 100.95,201.70 101.50,209.20 101.95,212.10 102.40,213.40 103.05,214.84 103.70,212.50 104.20,215.37 104.70,215.10 105.35,219.91 106.00,220.40 106.60,217.20 107.20,212.50 107.55,215.87 107.90,222.20 108.45,225.14 109.00,224.90 109.70,226.76 110.40,227.50 111.25,229.24 112.10,230.00 113.00,230.93 113.90,231.70 114.80,231.56 115.70,230.90 116.40,229.65 117.10,229.10 117.45,226.85 117.80,223.80 118.15,226.99 118.50,230.00 119.30,231.04 120.10,232.60 121.00,232.33 121.90,233.10 122.75,233.72 123.60,233.50 124.50,234.29 125.40,233.90 126.30,233.66 127.20,234.40 128.20,234.51 129.20,233.90" fill="none" stroke="#2c4a7e" stroke-width="1.3" stroke-linejoin="round"/>
<polyline points="37.50,234.20 38.25,234.19 39.00,234.80 39.90,234.25 40.80,233.60 41.70,233.74 42.60,234.20 43.50,234.02 44.40,233.60 45.30,234.35 46.20,234.80 47.10,233.38 48.00,233.00 48.90,231.82 49.80,231.80 50.40,231.90 51.00,231.20 51.60,231.51 52.20,232.40 53.10,232.08 54.00,232.40 54.95,233.29 55.90,233.00 56.80,232.76 57.70,232.60 58.60,233.20 59.50,233.00 60.10,232.37 60.70,231.80 61.00,229.47 61.30,226.80 61.60,223.98 61.90,222.00 62.20,219.76 62.50,217.20 62.85,214.47 63.20,208.50 63.90,202.35 64.60,196.00 65.15,187.26 65.70,176.40 66.20,181.80 66.70,185.70 67.20,183.28 67.70,184.70 68.25,191.49 68.80,196.00 69.30,192.30 69.80,187.80 70.30,189.53 70.80,193.00 71.35,193.49 71.90,198.10 72.40,194.01 72.90,186.70 73.75,181.43 74.60,176.40 75.10,184.06 75.60,189.80 76.10,196.17 76.60,199.20 77.35,204.79 78.10,208.50 78.70,212.95 79.30,213.70 80.05,209.09 80.80,205.40 81.50,204.62 82.20,201.20 83.05,202.01 83.90,203.30 84.40,202.62 84.90,198.10 85.45,191.72 86.00,182.00 86.30,178.93 86.60,179.40 87.00,181.10 87.40,186.00 87.70,188.25 88.00,193.00 88.55,196.55 89.10,196.00 89.80,195.22 90.50,195.00 91.35,196.61 92.20,197.10 92.90,192.57 93.60,189.80 94.25,187.78 94.90,185.70 95.60,188.30 96.30,191.90 97.05,189.19 97.80,187.80 98.60,187.12 99.40,185.70 99.90,192.27 100.40,198.10 100.95,205.08 101.50,208.50 101.95,211.40 102.40,212.70 103.05,214.14 103.70,211.80 104.20,214.67 104.70,214.40 105.35,219.21 106.00,219.70 106.60,216.50 107.20,211.80 107.55,215.17 107.90,221.50 108.45,224.44 109.00,224.20 109.70,226.06 110.40,226.80 111.25,228.54 112.10,229.30 113.00,230.23 113.90,231.00 114.80,230.86 115.70,230.20 116.40,228.95 117.10,228.40 117.45,226.15 117.80,223.10 118.15,226.29 118.50,229.30 119.30,230.34 120.10,231.90 121.00,231.63 121.90,232.40 122.75,233.02 123.60,232.80 124.50,233.59 125.40,233.20 126.30,232.96 127.20,233.70 128.20,233.81 129.20,233.20" fill="none" stroke="#6aa546" stroke-width="1.35" stroke-linejoin="round"/>
<polyline points="136.20,231.35 136.40,231.29 136.60,231.22 136.80,231.15 137.00,231.07 137.20,230.99 137.40,230.91 137.60,230.83 137.80,230.74 138.00,230.65 138.20,230.55 138.40,230.45 138.60,230.35 138.80,230.24 139.00,230.13 139.20,230.01 139.40,229.88 139.60,229.76 139.80,229.62 140.00,229.48 140.20,229.34 140.40,229.19 140.60,229.03 140.80,228.86 141.00,228.69 141.20,228.51 141.40,228.33 141.60,228.13 141.80,227.93 142.00,227.72 142.20,227.50 142.40,227.27 142.60,227.03 142.80,226.78 143.00,226.52 143.20,226.24 143.40,225.96 143.60,225.66 143.80,225.36 144.00,225.03 144.20,224.70 144.40,224.35 144.60,223.98 144.80,223.59 145.00,223.19 145.20,222.77 145.40,222.33 145.60,221.86 145.80,221.37 146.00,220.84 146.20,220.28 146.40,219.68 146.60,219.03 146.80,218.31 147.00,217.52 147.20,216.62 147.40,215.58 147.60,214.37 147.80,212.91 148.00,211.13 148.20,208.90 148.40,206.07 148.60,202.40 148.80,206.07 149.00,208.90 149.20,211.13 149.40,212.91 149.60,214.37 149.80,215.58 150.00,216.62 150.20,217.52 150.40,218.31 150.60,219.03 150.80,219.68 151.00,220.28 151.20,220.84 151.40,221.37 151.60,221.86 151.80,222.33 152.00,222.77 152.20,223.19 152.40,223.59 152.60,223.98 152.80,224.35 153.00,224.70 153.20,225.03 153.40,225.36 153.60,225.66 153.80,225.96 154.00,226.24 154.20,226.52 154.40,226.78 154.60,227.03 154.80,227.27 155.00,227.50 155.20,227.72 155.40,227.93 155.60,228.13 155.80,228.33 156.00,228.51 156.20,228.69 156.40,228.86 156.60,229.03 156.80,229.19 157.00,229.34 157.20,229.48 157.40,229.62 157.60,229.76 157.80,229.88 158.00,230.01 158.20,230.13 158.40,230.24 158.60,230.35 158.80,230.45 159.00,230.55 159.20,230.65 159.40,230.74 159.60,230.83 159.80,230.91 160.00,230.99 160.20,231.07 160.40,231.15 160.60,231.22 160.80,231.29 161.00,231.35" fill="none" stroke="#2c4a7e" stroke-width="1.3" stroke-linejoin="round"/>
<polyline points="136.20,230.75 136.40,230.69 136.60,230.62 136.80,230.55 137.00,230.47 137.20,230.39 137.40,230.31 137.60,230.23 137.80,230.14 138.00,230.05 138.20,229.95 138.40,229.85 138.60,229.75 138.80,229.64 139.00,229.53 139.20,229.41 139.40,229.28 139.60,229.16 139.80,229.02 140.00,228.88 140.20,228.74 140.40,228.59 140.60,228.43 140.80,228.26 141.00,228.09 141.20,227.91 141.40,227.73 141.60,227.53 141.80,227.33 142.00,227.12 142.20,226.90 142.40,226.67 142.60,226.43 142.80,226.18 143.00,225.92 143.20,225.64 143.40,225.36 143.60,225.06 143.80,224.76 144.00,224.43 144.20,224.10 144.40,223.75 144.60,223.38 144.80,222.99 145.00,222.59 145.20,222.17 145.40,221.73 145.60,221.26 145.80,220.77 146.00,220.24 146.20,219.68 146.40,219.08 146.60,218.43 146.80,217.71 147.00,216.92 147.20,216.02 147.40,214.98 147.60,213.77 147.80,212.31 148.00,210.53 148.20,208.30 148.40,205.47 148.60,201.80 148.80,205.47 149.00,208.30 149.20,210.53 149.40,212.31 149.60,213.77 149.80,214.98 150.00,216.02 150.20,216.92 150.40,217.71 150.60,218.43 150.80,219.08 151.00,219.68 151.20,220.24 151.40,220.77 151.60,221.26 151.80,221.73 152.00,222.17 152.20,222.59 152.40,222.99 152.60,223.38 152.80,223.75 153.00,224.10 153.20,224.43 153.40,224.76 153.60,225.06 153.80,225.36 154.00,225.64 154.20,225.92 154.40,226.18 154.60,226.43 154.80,226.67 155.00,226.90 155.20,227.12 155.40,227.33 155.60,227.53 155.80,227.73 156.00,227.91 156.20,228.09 156.40,228.26 156.60,228.43 156.80,228.59 157.00,228.74 157.20,228.88 157.40,229.02 157.60,229.16 157.80,229.28 158.00,229.41 158.20,229.53 158.40,229.64 158.60,229.75 158.80,229.85 159.00,229.95 159.20,230.05 159.40,230.14 159.60,230.23 159.80,230.31 160.00,230.39 160.20,230.47 160.40,230.55 160.60,230.62 160.80,230.69 161.00,230.75" fill="none" stroke="#6aa546" stroke-width="1.35" stroke-linejoin="round"/></g>

<!-- frames -->
<g stroke="#111" stroke-width="1.2" fill="none">
<rect x="37.3" y="149.6" width="92.4" height="90"/>
<rect x="135.6" y="149.6" width="25.9" height="90.2"/>
<path d="M60.4,149.6 v-2 M83.5,149.6 v-2 M106.5,149.6 v-2 M129.7,149.6 v-2 M37.3,149.6 v-2
M37.3,239.6 v2.6 M60.4,239.6 v2.6 M83.5,239.6 v2.6 M106.5,239.6 v2.6 M129.7,239.6 v2.6
M37.3,150.4 h-3.5 M37.3,167.8 h-3.5 M37.3,185.2 h-3.5 M37.3,202.6 h-3.5 M37.3,220 h-3.5 M37.3,237.5 h-3.5
M129.7,150.4 h2.6 M129.7,167.8 h2.6 M129.7,185.2 h2.6 M129.7,202.6 h2.6 M129.7,220 h2.6 M129.7,237.5 h2.6
M135.6,149.6 v-2 M141.9,149.6 v-2 M148.6,149.6 v-2 M155,149.6 v-2 M161.5,149.6 v-2
M135.6,239.8 v2.4 M141.9,239.8 v2.4 M148.6,239.8 v2.4 M155,239.8 v2.4 M161.5,239.8 v2.4"/>
</g>
<!-- legend B -->
<line x1="42.2" y1="159.1" x2="51.2" y2="159.1" stroke="#34507e" stroke-width="1.2"/>
<line x1="42.2" y1="167.9" x2="51.2" y2="167.9" stroke="#8ab86a" stroke-width="1.2"/>
<g font-size="6" fill="#333">
<text x="54" y="160.6">IRF4</text>
<text x="54" y="168.8">FLI1</text>
</g>

<!-- ============ PANEL C ============ -->
<text x="176.0" y="132.9" font-size="11.6" font-weight="bold" fill="#000">C</text>
<g id="pie"><path d="M214.6,199.0 L233.29,165.00 A38.8,38.8 0 1 1 214.60,160.20 Z" fill="#bf5a52"/>
<path d="M214.6,199.0 L214.60,160.20 A38.8,38.8 0 0 1 219.46,160.51 Z" fill="#e2ad5e"/>
<path d="M214.6,199.0 L219.46,160.51 A38.8,38.8 0 0 1 224.25,161.42 Z" fill="#9fbe68"/>
<path d="M214.6,199.0 L224.25,161.42 A38.8,38.8 0 0 1 233.29,165.00 Z" fill="#5271ab"/>
<g font-size="7.1" fill="#333"><text x="208.8" y="158.8">2%</text><text x="220.6" y="156.9">2%</text><text x="230.2" y="162.8">4%</text></g>
<text x="205.6" y="213.9" font-size="7.2" fill="#6b2626" style="stroke:#6b2626">92%</text>
<rect x="258.7" y="167.20" width="11.2" height="4" fill="#bf5a52"/>
<text x="272.5" y="172.00" font-size="7" fill="#333" xml:space="preserve">IRF4 and FLI1</text>
<rect x="258.7" y="177.15" width="11.2" height="4" fill="#e2ad5e"/>
<text x="272.5" y="181.95" font-size="7" fill="#333" xml:space="preserve">IRF4 alone</text>
<rect x="258.7" y="187.10" width="11.2" height="4" fill="#9fbe68"/>
<text x="272.5" y="191.90" font-size="7" fill="#333" xml:space="preserve">FLI1  alone</text>
<rect x="258.7" y="197.05" width="11.2" height="4" fill="#5271ab"/>
<text x="272.5" y="201.85" font-size="7" fill="#333" xml:space="preserve">No IRF4 or FLI1</text></g>

<!-- ============ PANEL D ============ -->
<text x="338.8" y="132.2" font-size="11" font-weight="bold" fill="#000">D</text>
<g id="linechart"><g stroke="#111" stroke-width="1.2" fill="none">
<path d="M382.2,144.6 V228.2 H511.9"/>
<path d="M382.2,228.00 h-4.2"/>
<path d="M382.2,202.10 h-4.2"/>
<path d="M382.2,176.20 h-4.2"/>
<path d="M418.60,228.2 v2.6"/>
<path d="M463.80,228.2 v2.6"/>
<path d="M509.00,228.2 v2.6"/>
</g>
<g font-size="8" fill="#333" text-anchor="end">
<text x="376.4" y="230.90">0</text>
<text x="376.4" y="205.00">50</text>
<text x="376.4" y="179.10">100</text>
</g>
<g font-size="8" fill="#333" text-anchor="middle">
<text x="418.60" y="240.1">5</text>
<text x="463.80" y="240.1">10</text>
<text x="509.00" y="240.1">15</text>
</g>
<text x="447.2" y="253.3" font-size="10.5" fill="#333" text-anchor="middle" transform="translate(447.2,0) scale(0.62,1) translate(-447.2,0)">Days</text>
<text transform="translate(346.6,186.6) rotate(-90)" font-size="8.6" fill="#4a4a4a" style="stroke:none" text-anchor="middle" textLength="45" lengthAdjust="spacingAndGlyphs">% of live cells</text>
<text transform="translate(356.6,185.5) rotate(-90)" font-size="8.4" fill="#4a4a4a" style="stroke:none" text-anchor="middle" textLength="85" lengthAdjust="spacingAndGlyphs">(relative to shSCR control)</text>
<g stroke="#82965a" stroke-width="0.85" fill="none">
<path d="M391.48,158.59 V189.67 M389.68,158.59 h3.6 M389.68,189.67 h3.6"/>
<path d="M409.56,176.46 V179.57 M407.76,176.46 h3.6 M407.76,179.57 h3.6"/>
<path d="M427.64,167.91 V209.35 M425.84,167.91 h3.6 M425.84,209.35 h3.6"/>
<path d="M445.72,193.81 V196.92 M443.92,193.81 h3.6 M443.92,196.92 h3.6"/>
<path d="M463.80,182.62 V206.45 M462.00,182.62 h3.6 M462.00,206.45 h3.6"/>
<path d="M481.88,190.70 V193.81 M480.08,190.70 h3.6 M480.08,193.81 h3.6"/>
<path d="M499.96,191.33 V201.69 M498.16,191.33 h3.6 M498.16,201.69 h3.6"/>
</g>
<polyline points="391.48,174.13 409.56,178.01 427.64,188.63 445.72,195.37 463.80,194.54 481.88,192.26 499.96,196.51" fill="none" stroke="#76b043" stroke-width="1.7" stroke-linejoin="round"/>
<path d="M391.48,172.23 l1.9,3.2 h-3.8 Z" fill="#76b043"/>
<path d="M409.56,176.11 l1.9,3.2 h-3.8 Z" fill="#76b043"/>
<path d="M427.64,186.73 l1.9,3.2 h-3.8 Z" fill="#76b043"/>
<path d="M445.72,193.47 l1.9,3.2 h-3.8 Z" fill="#76b043"/>
<path d="M463.80,192.64 l1.9,3.2 h-3.8 Z" fill="#76b043"/>
<path d="M481.88,190.36 l1.9,3.2 h-3.8 Z" fill="#76b043"/>
<path d="M499.96,194.61 l1.9,3.2 h-3.8 Z" fill="#76b043"/>
<g stroke="#a8256f" stroke-width="0.85" fill="none">
<path d="M391.48,146.88 V190.39 M389.68,146.88 h3.6 M389.68,190.39 h3.6"/>
<path d="M409.56,186.15 V193.40 M407.76,186.15 h3.6 M407.76,193.40 h3.6"/>
<path d="M427.64,196.40 V203.65 M425.84,196.40 h3.6 M425.84,203.65 h3.6"/>
<path d="M445.72,204.17 V209.35 M443.92,204.17 h3.6 M443.92,209.35 h3.6"/>
<path d="M463.80,200.70 V216.24 M462.00,200.70 h3.6 M462.00,216.24 h3.6"/>
<path d="M481.88,201.69 V206.87 M480.08,201.69 h3.6 M480.08,206.87 h3.6"/>
<path d="M499.96,214.22 V215.26 M498.16,214.22 h3.6 M498.16,215.26 h3.6"/>
</g>
<polyline points="391.48,168.64 409.56,189.77 427.64,200.03 445.72,206.76 463.80,208.47 481.88,204.28 499.96,214.74" fill="none" stroke="#c2187d" stroke-width="1.7" stroke-linejoin="round"/>
<path d="M391.48,170.54 l1.9,-3.2 h-3.8 Z" fill="#c2187d"/>
<path d="M409.56,191.67 l1.9,-3.2 h-3.8 Z" fill="#c2187d"/>
<path d="M427.64,201.93 l1.9,-3.2 h-3.8 Z" fill="#c2187d"/>
<path d="M445.72,208.66 l1.9,-3.2 h-3.8 Z" fill="#c2187d"/>
<path d="M463.80,210.37 l1.9,-3.2 h-3.8 Z" fill="#c2187d"/>
<path d="M481.88,206.18 l1.9,-3.2 h-3.8 Z" fill="#c2187d"/>
<path d="M499.96,216.64 l1.9,-3.2 h-3.8 Z" fill="#c2187d"/>
<g stroke="#3e1e5e" stroke-width="0.85" fill="none">
<path d="M391.48,179.00 V189.36 M389.68,179.00 h3.6 M389.68,189.36 h3.6"/>
<path d="M409.56,191.22 V207.80 M407.76,191.22 h3.6 M407.76,207.80 h3.6"/>
<path d="M427.64,197.96 V222.82 M425.84,197.96 h3.6 M425.84,222.82 h3.6"/>
<path d="M445.72,216.40 V224.68 M443.92,216.40 h3.6 M443.92,224.68 h3.6"/>
</g>
<polyline points="391.48,184.18 409.56,199.51 427.64,210.39 445.72,220.54 463.80,228.00 481.88,228.00 499.96,228.00" fill="none" stroke="#3e1e5e" stroke-width="1.7" stroke-linejoin="round"/>
<rect x="389.88" y="182.58" width="3.2" height="3.2" fill="#3e1e5e"/>
<rect x="407.96" y="197.91" width="3.2" height="3.2" fill="#3e1e5e"/>
<rect x="426.04" y="208.79" width="3.2" height="3.2" fill="#3e1e5e"/>
<rect x="444.12" y="218.94" width="3.2" height="3.2" fill="#3e1e5e"/>
<rect x="462.20" y="226.40" width="3.2" height="3.2" fill="#3e1e5e"/>
<rect x="480.28" y="226.40" width="3.2" height="3.2" fill="#3e1e5e"/>
<rect x="498.36" y="226.40" width="3.2" height="3.2" fill="#3e1e5e"/>
<line x1="467.1" y1="145.7" x2="477.3" y2="145.7" stroke="#3e1e5e" stroke-width="1.5"/>
<rect x="470.60" y="144.10" width="3.2" height="3.2" fill="#3e1e5e"/>
<text x="480.3" y="148.00" font-size="6.9" fill="#333">shIRF4</text>
<line x1="467.1" y1="155.7" x2="477.3" y2="155.7" stroke="#76b043" stroke-width="1.5"/>
<path d="M472.20,153.80 l1.9,3.2 h-3.8 Z" fill="#76b043"/>
<text x="480.3" y="158.00" font-size="6.9" fill="#333">shFLI1-1</text>
<line x1="467.1" y1="165.2" x2="477.3" y2="165.2" stroke="#c2187d" stroke-width="1.5"/>
<path d="M472.20,167.10 l1.9,-3.2 h-3.8 Z" fill="#c2187d"/>
<text x="480.3" y="167.50" font-size="6.9" fill="#333">shFLI1-2</text></g>
</svg>
</body></html>
